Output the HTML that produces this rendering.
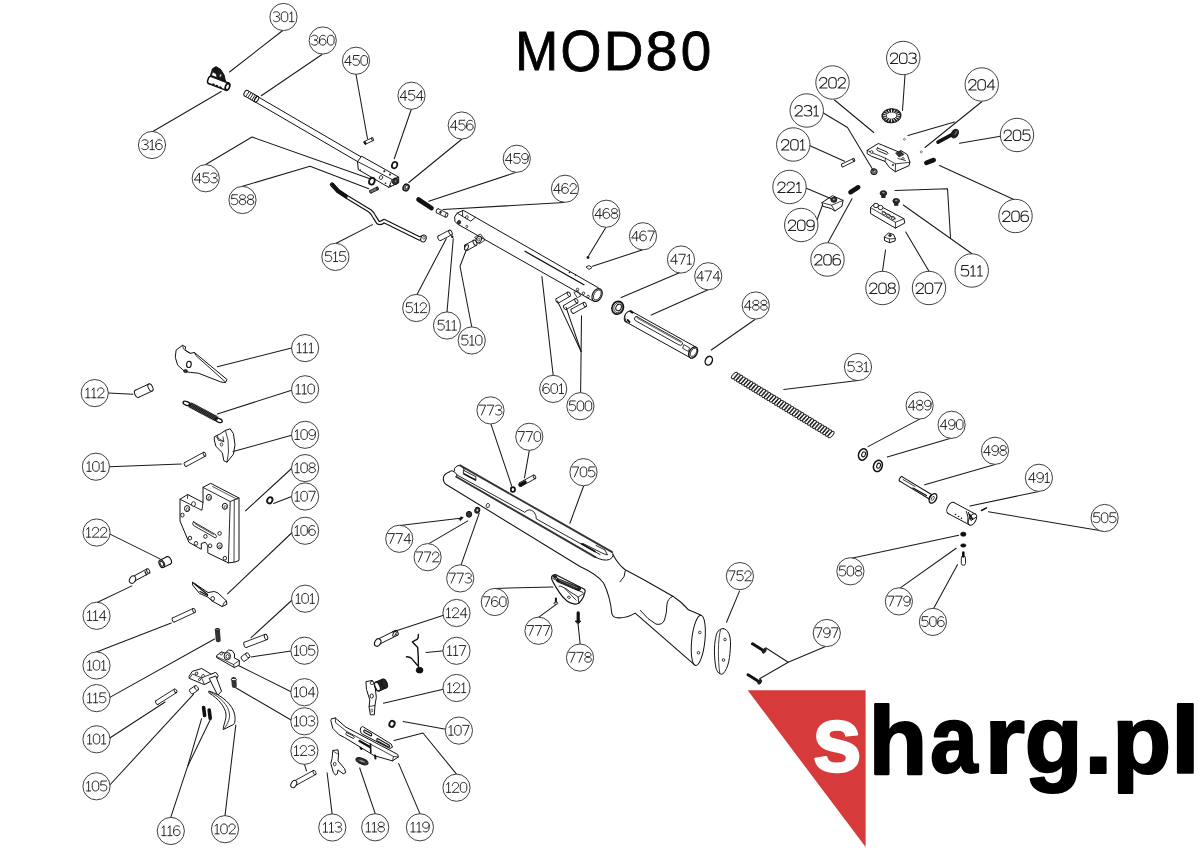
<!DOCTYPE html>
<html><head><meta charset="utf-8"><style>
html,body{margin:0;padding:0;background:#fff;width:1200px;height:848px;overflow:hidden}
svg{display:block}
</style></head><body>
<svg width="1200" height="848" viewBox="0 0 1200 848">
<rect width="1200" height="848" fill="#fff"/>
<text transform="translate(515.18,70.40) scale(0.51420,0.55959)" font-size="100" font-family="'Liberation Sans', sans-serif" fill="#000" stroke="#000" stroke-width="1.5558">M</text>
<text transform="translate(560.43,70.73) scale(0.52562,0.56638)" font-size="100" font-family="'Liberation Sans', sans-serif" fill="#000" stroke="#000" stroke-width="1.5220">O</text>
<text transform="translate(603.68,70.40) scale(0.55068,0.56105)" font-size="100" font-family="'Liberation Sans', sans-serif" fill="#000" stroke="#000" stroke-width="1.4528">D</text>
<text transform="translate(645.51,70.34) scale(0.57872,0.56215)" font-size="100" font-family="'Liberation Sans', sans-serif" fill="#000" stroke="#000" stroke-width="1.3824">8</text>
<text transform="translate(680.76,70.34) scale(0.54812,0.56215)" font-size="100" font-family="'Liberation Sans', sans-serif" fill="#000" stroke="#000" stroke-width="1.4595">0</text>
<polygon points="210.50,75.50 212.50,69.00 216.00,66.80 220.50,69.50 224.00,75.00 225.50,81.50 218.00,79.00" fill="#1a1a1a" stroke="#111" stroke-width="1.1" stroke-linejoin="round" />
<polygon points="211.50,75.50 213.00,70.50 215.50,71.50 217.00,77.50" fill="#fff" stroke="#111" stroke-width="0.7" stroke-linejoin="round" />
<ellipse cx="215.30" cy="70.80" rx="2.20" ry="2.40" transform="rotate(0.00 215.30 70.80)" fill="#111" stroke="#111" stroke-width="0.8"/>
<ellipse cx="220.50" cy="75.50" rx="0.80" ry="1.50" transform="rotate(20.00 220.50 75.50)" fill="#fff" stroke="#111" stroke-width="0.3"/>
<ellipse cx="210.00" cy="80.00" rx="2.09" ry="3.80" transform="rotate(21.23 210.00 80.00)" fill="#fff" stroke="#111" stroke-width="1.5"/>
<polygon points="208.62,83.54 226.12,90.34 228.88,83.26 211.38,76.46" fill="#fff" stroke="none"/>
<polyline points="208.62,83.54 226.12,90.34" fill="none" stroke="#111" stroke-width="1.5" stroke-linecap="round" stroke-linejoin="round"/>
<polyline points="211.38,76.46 228.88,83.26" fill="none" stroke="#111" stroke-width="1.5" stroke-linecap="round" stroke-linejoin="round"/>
<ellipse cx="227.50" cy="86.80" rx="2.09" ry="3.80" transform="rotate(21.23 227.50 86.80)" fill="#fff" stroke="#111" stroke-width="1.5"/>
<ellipse cx="227.50" cy="86.80" rx="1.80" ry="3.00" transform="rotate(21.00 227.50 86.80)" fill="#fff" stroke="#111" stroke-width="1.2"/>
<line x1="213.00" y1="84.20" x2="214.00" y2="84.60" stroke="#111" stroke-width="1.6" stroke-linecap="round"/>
<line x1="216.50" y1="85.60" x2="217.50" y2="86.00" stroke="#111" stroke-width="1.6" stroke-linecap="round"/>
<line x1="220.00" y1="87.00" x2="221.00" y2="87.40" stroke="#111" stroke-width="1.6" stroke-linecap="round"/>
<ellipse cx="256.00" cy="99.00" rx="1.59" ry="2.90" transform="rotate(30.24 256.00 99.00)" fill="#fff" stroke="#111" stroke-width="1.0"/>
<polygon points="254.54,101.51 360.54,163.31 363.46,158.29 257.46,96.49" fill="#fff" stroke="none"/>
<polyline points="254.54,101.51 360.54,163.31" fill="none" stroke="#111" stroke-width="1.0" stroke-linecap="round" stroke-linejoin="round"/>
<polyline points="257.46,96.49 363.46,158.29" fill="none" stroke="#111" stroke-width="1.0" stroke-linecap="round" stroke-linejoin="round"/>
<ellipse cx="362.00" cy="160.80" rx="1.59" ry="2.90" transform="rotate(30.24 362.00 160.80)" fill="#fff" stroke="#111" stroke-width="1.0"/>
<ellipse cx="246.00" cy="93.20" rx="1.71" ry="3.10" transform="rotate(29.74 246.00 93.20)" fill="#fff" stroke="#111" stroke-width="1.0"/>
<polygon points="244.46,95.89 254.96,101.89 258.04,96.51 247.54,90.51" fill="#fff" stroke="none"/>
<polyline points="244.46,95.89 254.96,101.89" fill="none" stroke="#111" stroke-width="1.0" stroke-linecap="round" stroke-linejoin="round"/>
<polyline points="247.54,90.51 258.04,96.51" fill="none" stroke="#111" stroke-width="1.0" stroke-linecap="round" stroke-linejoin="round"/>
<ellipse cx="256.50" cy="99.20" rx="1.71" ry="3.10" transform="rotate(29.74 256.50 99.20)" fill="#fff" stroke="#111" stroke-width="1.0"/>
<line x1="249.10" y1="91.60" x2="245.90" y2="96.40" stroke="#111" stroke-width="0.9" stroke-linecap="round"/>
<line x1="251.10" y1="92.80" x2="247.90" y2="97.60" stroke="#111" stroke-width="0.9" stroke-linecap="round"/>
<line x1="253.10" y1="94.00" x2="249.90" y2="98.80" stroke="#111" stroke-width="0.9" stroke-linecap="round"/>
<line x1="255.10" y1="95.20" x2="251.90" y2="100.00" stroke="#111" stroke-width="0.9" stroke-linecap="round"/>
<line x1="257.10" y1="96.40" x2="253.90" y2="101.20" stroke="#111" stroke-width="0.9" stroke-linecap="round"/>
<polygon points="357.50,161.50 361.60,156.20 398.70,177.10 398.70,182.90 388.80,187.40 358.30,169.60" fill="#fff" stroke="#111" stroke-width="1.0" stroke-linejoin="round" />
<polyline points="357.50,161.50 392.10,179.50 398.70,177.10" fill="none" stroke="#111" stroke-width="0.9" stroke-linecap="round" stroke-linejoin="round"/>
<polyline points="392.10,179.50 388.80,187.40" fill="none" stroke="#111" stroke-width="0.9" stroke-linecap="round" stroke-linejoin="round"/>
<ellipse cx="395.40" cy="181.30" rx="2.60" ry="3.20" transform="rotate(25.00 395.40 181.30)" fill="#333" stroke="#111" stroke-width="1"/>
<ellipse cx="395.60" cy="181.20" rx="1.10" ry="1.50" transform="rotate(25.00 395.60 181.20)" fill="#888" stroke="#111" stroke-width="0.5"/>
<ellipse cx="381.00" cy="177.50" rx="1.60" ry="2.00" transform="rotate(20.00 381.00 177.50)" fill="#fff" stroke="#111" stroke-width="0.8"/>
<circle cx="384.3" cy="171.3" r="1.0" fill="#111"/><circle cx="390" cy="174.6" r="1.0" fill="#111"/><circle cx="385.5" cy="183.3" r="0.8" fill="#111"/><circle cx="360.3" cy="170" r="0.8" fill="#111"/><circle cx="390.5" cy="185.7" r="0.8" fill="#111"/>
<ellipse cx="365.00" cy="142.80" rx="0.83" ry="1.50" transform="rotate(-25.64 365.00 142.80)" fill="#fff" stroke="#111" stroke-width="0.9"/>
<polygon points="365.65,144.15 373.15,140.55 371.85,137.85 364.35,141.45" fill="#fff" stroke="none"/>
<polyline points="365.65,144.15 373.15,140.55" fill="none" stroke="#111" stroke-width="0.9" stroke-linecap="round" stroke-linejoin="round"/>
<polyline points="364.35,141.45 371.85,137.85" fill="none" stroke="#111" stroke-width="0.9" stroke-linecap="round" stroke-linejoin="round"/>
<ellipse cx="372.50" cy="139.20" rx="0.83" ry="1.50" transform="rotate(-25.64 372.50 139.20)" fill="#fff" stroke="#111" stroke-width="0.9"/>
<ellipse cx="365.00" cy="142.80" rx="0.90" ry="1.50" transform="rotate(-25.00 365.00 142.80)" fill="#111" stroke="#111" stroke-width="0.6"/>
<ellipse cx="394.60" cy="165.10" rx="2.60" ry="3.30" transform="rotate(20.00 394.60 165.10)" fill="#fff" stroke="#111" stroke-width="1.7"/>
<ellipse cx="371.90" cy="181.20" rx="2.70" ry="3.50" transform="rotate(20.00 371.90 181.20)" fill="#fff" stroke="#111" stroke-width="1.8"/>
<ellipse cx="370.50" cy="191.80" rx="0.77" ry="1.40" transform="rotate(-25.91 370.50 191.80)" fill="#777" stroke="#111" stroke-width="0.9"/>
<polygon points="371.11,193.06 378.11,189.66 376.89,187.14 369.89,190.54" fill="#777" stroke="none"/>
<polyline points="371.11,193.06 378.11,189.66" fill="none" stroke="#111" stroke-width="0.9" stroke-linecap="round" stroke-linejoin="round"/>
<polyline points="369.89,190.54 376.89,187.14" fill="none" stroke="#111" stroke-width="0.9" stroke-linecap="round" stroke-linejoin="round"/>
<ellipse cx="377.50" cy="188.40" rx="0.77" ry="1.40" transform="rotate(-25.91 377.50 188.40)" fill="#777" stroke="#111" stroke-width="0.9"/>
<ellipse cx="406.10" cy="187.50" rx="2.90" ry="3.50" transform="rotate(25.00 406.10 187.50)" fill="#888" stroke="#111" stroke-width="1.4"/>
<ellipse cx="406.60" cy="187.30" rx="1.30" ry="1.80" transform="rotate(25.00 406.60 187.30)" fill="#fff" stroke="#111" stroke-width="0.7"/>
<path d="M332,184.5 L338,191 L347,197 L370,211 Q373,213.5 374.5,217 L378,222.5 Q380.5,224 384,221 L419.5,238.5 L423.5,237" fill="none" stroke="#111" stroke-width="4.3" stroke-linecap="round" stroke-linejoin="round"/>
<path d="M332,184.5 L338,191 L347,197 L370,211 Q373,213.5 374.5,217 L378,222.5 Q380.5,224 384,221 L419.5,238.5 L423.5,237" fill="none" stroke="#fff" stroke-width="2.0" stroke-linecap="round" stroke-linejoin="round"/>
<polyline points="332.50,184.50 338.00,191.00 346.00,196.50" fill="none" stroke="#111" stroke-width="3.4" stroke-linecap="round" stroke-linejoin="round"/>
<ellipse cx="423.50" cy="238.50" rx="2.60" ry="3.60" transform="rotate(20.00 423.50 238.50)" fill="#fff" stroke="#111" stroke-width="1.0"/>
<ellipse cx="424.00" cy="237.80" rx="1.00" ry="1.50" transform="rotate(20.00 424.00 237.80)" fill="#fff" stroke="#111" stroke-width="0.6"/>
<polygon points="463.30,210.30 598.70,288.00 592.40,300.70 457.60,224.10 455.00,221.50 454.60,217.00 457.20,213.10" fill="#fff" stroke="#111" stroke-width="1.0" stroke-linejoin="round" />
<polyline points="462.60,210.60 462.60,216.30 470.70,221.20 475.30,217.30" fill="none" stroke="#111" stroke-width="0.9" stroke-linecap="round" stroke-linejoin="round"/>
<polyline points="457.20,213.10 462.60,216.30" fill="none" stroke="#111" stroke-width="0.9" stroke-linecap="round" stroke-linejoin="round"/>
<ellipse cx="466.80" cy="217.30" rx="1.30" ry="1.60" transform="rotate(20.00 466.80 217.30)" fill="#fff" stroke="#111" stroke-width="0.8"/>
<ellipse cx="459.00" cy="222.30" rx="1.60" ry="1.90" transform="rotate(20.00 459.00 222.30)" fill="#333" stroke="#111" stroke-width="0.8"/>
<ellipse cx="466.80" cy="226.50" rx="1.00" ry="1.20" transform="rotate(0.00 466.80 226.50)" fill="#fff" stroke="#111" stroke-width="0.7"/>
<ellipse cx="597.10" cy="295.10" rx="4.60" ry="6.80" transform="rotate(28.00 597.10 295.10)" fill="#fff" stroke="#111" stroke-width="1.2"/>
<ellipse cx="597.30" cy="295.00" rx="3.30" ry="5.40" transform="rotate(28.00 597.30 295.00)" fill="#fff" stroke="#111" stroke-width="0.8"/>
<polyline points="525.00,251.30 583.90,284.80" fill="none" stroke="#111" stroke-width="1.3" stroke-linecap="round" stroke-linejoin="round"/>
<path d="M475,237 L480.5,234 L485,240 L480,243.5 Z" fill="none" stroke="#111" stroke-width="0.8" stroke-linecap="round" stroke-linejoin="round"/>
<ellipse cx="478.80" cy="239.60" rx="2.50" ry="3.40" transform="rotate(25.00 478.80 239.60)" fill="#fff" stroke="#111" stroke-width="1.0"/>
<ellipse cx="478.80" cy="239.60" rx="1.10" ry="1.60" transform="rotate(25.00 478.80 239.60)" fill="#fff" stroke="#111" stroke-width="0.6"/>
<ellipse cx="577.50" cy="289.50" rx="1.20" ry="1.30" transform="rotate(0.00 577.50 289.50)" fill="#fff" stroke="#111" stroke-width="0.8"/>
<ellipse cx="583.40" cy="293.30" rx="1.20" ry="1.30" transform="rotate(0.00 583.40 293.30)" fill="#fff" stroke="#111" stroke-width="0.8"/>
<ellipse cx="588.10" cy="296.50" rx="1.20" ry="1.30" transform="rotate(0.00 588.10 296.50)" fill="#fff" stroke="#111" stroke-width="0.8"/>
<path d="M574.3,292.2 L578,291 L580.7,296 L577.5,297.5 Z" fill="none" stroke="#111" stroke-width="0.8" stroke-linecap="round" stroke-linejoin="round"/>
<ellipse cx="569.50" cy="272.50" rx="0.60" ry="0.60" transform="rotate(0.00 569.50 272.50)" fill="#111" stroke="#111" stroke-width="0.4"/>
<ellipse cx="575.50" cy="275.00" rx="0.60" ry="0.60" transform="rotate(0.00 575.50 275.00)" fill="#111" stroke="#111" stroke-width="0.4"/>
<line x1="418.50" y1="199.50" x2="431.50" y2="208.20" stroke="#111" stroke-width="4.6" stroke-linecap="round"/>
<ellipse cx="437.50" cy="210.80" rx="1.21" ry="2.20" transform="rotate(26.05 437.50 210.80)" fill="#fff" stroke="#111" stroke-width="0.9"/>
<polygon points="436.53,212.78 445.53,217.18 447.47,213.22 438.47,208.82" fill="#fff" stroke="none"/>
<polyline points="436.53,212.78 445.53,217.18" fill="none" stroke="#111" stroke-width="0.9" stroke-linecap="round" stroke-linejoin="round"/>
<polyline points="438.47,208.82 447.47,213.22" fill="none" stroke="#111" stroke-width="0.9" stroke-linecap="round" stroke-linejoin="round"/>
<ellipse cx="446.50" cy="215.20" rx="1.21" ry="2.20" transform="rotate(26.05 446.50 215.20)" fill="#fff" stroke="#111" stroke-width="0.9"/>
<ellipse cx="440.50" cy="212.30" rx="1.00" ry="1.20" transform="rotate(25.00 440.50 212.30)" fill="#333" stroke="#111" stroke-width="0.5"/>
<ellipse cx="439.50" cy="238.20" rx="1.43" ry="2.60" transform="rotate(-27.39 439.50 238.20)" fill="#fff" stroke="#111" stroke-width="0.9"/>
<polygon points="440.70,240.51 451.70,234.81 449.30,230.19 438.30,235.89" fill="#fff" stroke="none"/>
<polyline points="440.70,240.51 451.70,234.81" fill="none" stroke="#111" stroke-width="0.9" stroke-linecap="round" stroke-linejoin="round"/>
<polyline points="438.30,235.89 449.30,230.19" fill="none" stroke="#111" stroke-width="0.9" stroke-linecap="round" stroke-linejoin="round"/>
<ellipse cx="450.50" cy="232.50" rx="1.43" ry="2.60" transform="rotate(-27.39 450.50 232.50)" fill="#fff" stroke="#111" stroke-width="0.9"/>
<circle cx="452.3" cy="236.8" r="1.2" fill="#111"/>
<ellipse cx="466.50" cy="247.50" rx="1.59" ry="2.90" transform="rotate(-28.94 466.50 247.50)" fill="#fff" stroke="#111" stroke-width="0.9"/>
<polygon points="467.90,250.04 476.40,245.34 473.60,240.26 465.10,244.96" fill="#fff" stroke="none"/>
<polyline points="467.90,250.04 476.40,245.34" fill="none" stroke="#111" stroke-width="0.9" stroke-linecap="round" stroke-linejoin="round"/>
<polyline points="465.10,244.96 473.60,240.26" fill="none" stroke="#111" stroke-width="0.9" stroke-linecap="round" stroke-linejoin="round"/>
<ellipse cx="475.00" cy="242.80" rx="1.59" ry="2.90" transform="rotate(-28.94 475.00 242.80)" fill="#fff" stroke="#111" stroke-width="0.9"/>
<ellipse cx="466.50" cy="247.50" rx="1.60" ry="2.90" transform="rotate(27.00 466.50 247.50)" fill="#fff" stroke="#111" stroke-width="0.9"/>
<circle cx="588" cy="257.5" r="1.4" fill="#111"/>
<polygon points="586.00,267.00 589.00,265.50 592.00,267.50 589.00,269.50" fill="#fff" stroke="#111" stroke-width="0.9" stroke-linejoin="round" />
<ellipse cx="557.50" cy="300.80" rx="1.32" ry="2.40" transform="rotate(-30.07 557.50 300.80)" fill="#fff" stroke="#111" stroke-width="0.9"/>
<polygon points="558.70,302.88 570.10,296.28 567.70,292.12 556.30,298.72" fill="#fff" stroke="none"/>
<polyline points="558.70,302.88 570.10,296.28" fill="none" stroke="#111" stroke-width="0.9" stroke-linecap="round" stroke-linejoin="round"/>
<polyline points="556.30,298.72 567.70,292.12" fill="none" stroke="#111" stroke-width="0.9" stroke-linecap="round" stroke-linejoin="round"/>
<ellipse cx="568.90" cy="294.20" rx="1.32" ry="2.40" transform="rotate(-30.07 568.90 294.20)" fill="#fff" stroke="#111" stroke-width="0.9"/>
<ellipse cx="565.10" cy="307.40" rx="1.32" ry="2.40" transform="rotate(-30.29 565.10 307.40)" fill="#fff" stroke="#111" stroke-width="0.9"/>
<polygon points="566.31,309.47 577.61,302.87 575.19,298.73 563.89,305.33" fill="#fff" stroke="none"/>
<polyline points="566.31,309.47 577.61,302.87" fill="none" stroke="#111" stroke-width="0.9" stroke-linecap="round" stroke-linejoin="round"/>
<polyline points="563.89,305.33 575.19,298.73" fill="none" stroke="#111" stroke-width="0.9" stroke-linecap="round" stroke-linejoin="round"/>
<ellipse cx="576.40" cy="300.80" rx="1.32" ry="2.40" transform="rotate(-30.29 576.40 300.80)" fill="#fff" stroke="#111" stroke-width="0.9"/>
<ellipse cx="572.60" cy="311.20" rx="1.32" ry="2.40" transform="rotate(-28.58 572.60 311.20)" fill="#fff" stroke="#111" stroke-width="0.9"/>
<polygon points="573.75,313.31 586.05,306.61 583.75,302.39 571.45,309.09" fill="#fff" stroke="none"/>
<polyline points="573.75,313.31 586.05,306.61" fill="none" stroke="#111" stroke-width="0.9" stroke-linecap="round" stroke-linejoin="round"/>
<polyline points="571.45,309.09 583.75,302.39" fill="none" stroke="#111" stroke-width="0.9" stroke-linecap="round" stroke-linejoin="round"/>
<ellipse cx="584.90" cy="304.50" rx="1.32" ry="2.40" transform="rotate(-28.58 584.90 304.50)" fill="#fff" stroke="#111" stroke-width="0.9"/>
<ellipse cx="617.70" cy="307.70" rx="5.60" ry="6.60" transform="rotate(25.00 617.70 307.70)" fill="#fff" stroke="#111" stroke-width="1.6"/>
<ellipse cx="618.20" cy="307.60" rx="4.20" ry="5.20" transform="rotate(25.00 618.20 307.60)" fill="#fff" stroke="#111" stroke-width="0.7"/>
<ellipse cx="618.60" cy="307.50" rx="2.60" ry="3.40" transform="rotate(25.00 618.60 307.50)" fill="#fff" stroke="#111" stroke-width="1.0"/>
<ellipse cx="628.50" cy="316.50" rx="3.60" ry="6.00" transform="rotate(29.09 628.50 316.50)" fill="#fff" stroke="#111" stroke-width="1.0"/>
<polygon points="625.58,321.74 690.28,357.74 696.12,347.26 631.42,311.26" fill="#fff" stroke="none"/>
<polyline points="625.58,321.74 690.28,357.74" fill="none" stroke="#111" stroke-width="1.0" stroke-linecap="round" stroke-linejoin="round"/>
<polyline points="631.42,311.26 696.12,347.26" fill="none" stroke="#111" stroke-width="1.0" stroke-linecap="round" stroke-linejoin="round"/>
<ellipse cx="693.20" cy="352.50" rx="3.60" ry="6.00" transform="rotate(29.09 693.20 352.50)" fill="#fff" stroke="#111" stroke-width="1.0"/>
<path d="M630.9,310.8 Q624.5,312 624.8,317.5 Q625.2,321.2 626.6,321.8" fill="#fff" stroke="#111" stroke-width="1.0" stroke-linecap="round" stroke-linejoin="round"/>
<polyline points="630.50,311.50 632.50,312.80" fill="none" stroke="#111" stroke-width="1.8" stroke-linecap="round" stroke-linejoin="round"/>
<polyline points="627.50,320.00 629.50,322.00" fill="none" stroke="#111" stroke-width="1.8" stroke-linecap="round" stroke-linejoin="round"/>
<path d="M637,316.8 L681.5,341.5 Q683.5,343 682,344.8 Q680.5,345.8 678.8,344.8 L635.2,320.5 Q633.5,319 635,317.2 Q635.8,316.3 637,316.8 Z" fill="#fff" stroke="#111" stroke-width="0.9" stroke-linecap="round" stroke-linejoin="round"/>
<polyline points="637.50,318.30 680.50,342.20" fill="none" stroke="#111" stroke-width="0.6" stroke-linecap="round" stroke-linejoin="round"/>
<path d="M684.2,344.8 L689.5,347.8 L688.5,351.5 L683,348.5 Z" fill="none" stroke="#111" stroke-width="0.8" stroke-linecap="round" stroke-linejoin="round"/>
<ellipse cx="693.20" cy="352.50" rx="3.90" ry="6.00" transform="rotate(29.00 693.20 352.50)" fill="#fff" stroke="#111" stroke-width="1.3"/>
<ellipse cx="693.50" cy="352.30" rx="2.60" ry="4.50" transform="rotate(29.00 693.50 352.30)" fill="#fff" stroke="#111" stroke-width="0.8"/>
<ellipse cx="708.80" cy="360.70" rx="3.40" ry="4.60" transform="rotate(25.00 708.80 360.70)" fill="#fff" stroke="#111" stroke-width="1.4"/>
<ellipse cx="734.50" cy="375.50" rx="1.80" ry="4.00" transform="rotate(43.44 734.50 375.50)" fill="none" stroke="#222" stroke-width="1.0"/>
<ellipse cx="737.04" cy="377.05" rx="1.80" ry="4.00" transform="rotate(43.44 737.04 377.05)" fill="none" stroke="#222" stroke-width="1.0"/>
<ellipse cx="739.58" cy="378.61" rx="1.80" ry="4.00" transform="rotate(43.44 739.58 378.61)" fill="none" stroke="#222" stroke-width="1.0"/>
<ellipse cx="742.12" cy="380.16" rx="1.80" ry="4.00" transform="rotate(43.44 742.12 380.16)" fill="none" stroke="#222" stroke-width="1.0"/>
<ellipse cx="744.66" cy="381.71" rx="1.80" ry="4.00" transform="rotate(43.44 744.66 381.71)" fill="none" stroke="#222" stroke-width="1.0"/>
<ellipse cx="747.20" cy="383.26" rx="1.80" ry="4.00" transform="rotate(43.44 747.20 383.26)" fill="none" stroke="#222" stroke-width="1.0"/>
<ellipse cx="749.74" cy="384.82" rx="1.80" ry="4.00" transform="rotate(43.44 749.74 384.82)" fill="none" stroke="#222" stroke-width="1.0"/>
<ellipse cx="752.28" cy="386.37" rx="1.80" ry="4.00" transform="rotate(43.44 752.28 386.37)" fill="none" stroke="#222" stroke-width="1.0"/>
<ellipse cx="754.82" cy="387.92" rx="1.80" ry="4.00" transform="rotate(43.44 754.82 387.92)" fill="none" stroke="#222" stroke-width="1.0"/>
<ellipse cx="757.36" cy="389.47" rx="1.80" ry="4.00" transform="rotate(43.44 757.36 389.47)" fill="none" stroke="#222" stroke-width="1.0"/>
<ellipse cx="759.89" cy="391.03" rx="1.80" ry="4.00" transform="rotate(43.44 759.89 391.03)" fill="none" stroke="#222" stroke-width="1.0"/>
<ellipse cx="762.43" cy="392.58" rx="1.80" ry="4.00" transform="rotate(43.44 762.43 392.58)" fill="none" stroke="#222" stroke-width="1.0"/>
<ellipse cx="764.97" cy="394.13" rx="1.80" ry="4.00" transform="rotate(43.44 764.97 394.13)" fill="none" stroke="#222" stroke-width="1.0"/>
<ellipse cx="767.51" cy="395.68" rx="1.80" ry="4.00" transform="rotate(43.44 767.51 395.68)" fill="none" stroke="#222" stroke-width="1.0"/>
<ellipse cx="770.05" cy="397.24" rx="1.80" ry="4.00" transform="rotate(43.44 770.05 397.24)" fill="none" stroke="#222" stroke-width="1.0"/>
<ellipse cx="772.59" cy="398.79" rx="1.80" ry="4.00" transform="rotate(43.44 772.59 398.79)" fill="none" stroke="#222" stroke-width="1.0"/>
<ellipse cx="775.13" cy="400.34" rx="1.80" ry="4.00" transform="rotate(43.44 775.13 400.34)" fill="none" stroke="#222" stroke-width="1.0"/>
<ellipse cx="777.67" cy="401.89" rx="1.80" ry="4.00" transform="rotate(43.44 777.67 401.89)" fill="none" stroke="#222" stroke-width="1.0"/>
<ellipse cx="780.21" cy="403.45" rx="1.80" ry="4.00" transform="rotate(43.44 780.21 403.45)" fill="none" stroke="#222" stroke-width="1.0"/>
<ellipse cx="782.75" cy="405.00" rx="1.80" ry="4.00" transform="rotate(43.44 782.75 405.00)" fill="none" stroke="#222" stroke-width="1.0"/>
<ellipse cx="785.29" cy="406.55" rx="1.80" ry="4.00" transform="rotate(43.44 785.29 406.55)" fill="none" stroke="#222" stroke-width="1.0"/>
<ellipse cx="787.83" cy="408.11" rx="1.80" ry="4.00" transform="rotate(43.44 787.83 408.11)" fill="none" stroke="#222" stroke-width="1.0"/>
<ellipse cx="790.37" cy="409.66" rx="1.80" ry="4.00" transform="rotate(43.44 790.37 409.66)" fill="none" stroke="#222" stroke-width="1.0"/>
<ellipse cx="792.91" cy="411.21" rx="1.80" ry="4.00" transform="rotate(43.44 792.91 411.21)" fill="none" stroke="#222" stroke-width="1.0"/>
<ellipse cx="795.45" cy="412.76" rx="1.80" ry="4.00" transform="rotate(43.44 795.45 412.76)" fill="none" stroke="#222" stroke-width="1.0"/>
<ellipse cx="797.99" cy="414.32" rx="1.80" ry="4.00" transform="rotate(43.44 797.99 414.32)" fill="none" stroke="#222" stroke-width="1.0"/>
<ellipse cx="800.53" cy="415.87" rx="1.80" ry="4.00" transform="rotate(43.44 800.53 415.87)" fill="none" stroke="#222" stroke-width="1.0"/>
<ellipse cx="803.07" cy="417.42" rx="1.80" ry="4.00" transform="rotate(43.44 803.07 417.42)" fill="none" stroke="#222" stroke-width="1.0"/>
<ellipse cx="805.61" cy="418.97" rx="1.80" ry="4.00" transform="rotate(43.44 805.61 418.97)" fill="none" stroke="#222" stroke-width="1.0"/>
<ellipse cx="808.14" cy="420.53" rx="1.80" ry="4.00" transform="rotate(43.44 808.14 420.53)" fill="none" stroke="#222" stroke-width="1.0"/>
<ellipse cx="810.68" cy="422.08" rx="1.80" ry="4.00" transform="rotate(43.44 810.68 422.08)" fill="none" stroke="#222" stroke-width="1.0"/>
<ellipse cx="813.22" cy="423.63" rx="1.80" ry="4.00" transform="rotate(43.44 813.22 423.63)" fill="none" stroke="#222" stroke-width="1.0"/>
<ellipse cx="815.76" cy="425.18" rx="1.80" ry="4.00" transform="rotate(43.44 815.76 425.18)" fill="none" stroke="#222" stroke-width="1.0"/>
<ellipse cx="818.30" cy="426.74" rx="1.80" ry="4.00" transform="rotate(43.44 818.30 426.74)" fill="none" stroke="#222" stroke-width="1.0"/>
<ellipse cx="820.84" cy="428.29" rx="1.80" ry="4.00" transform="rotate(43.44 820.84 428.29)" fill="none" stroke="#222" stroke-width="1.0"/>
<ellipse cx="823.38" cy="429.84" rx="1.80" ry="4.00" transform="rotate(43.44 823.38 429.84)" fill="none" stroke="#222" stroke-width="1.0"/>
<ellipse cx="825.92" cy="431.39" rx="1.80" ry="4.00" transform="rotate(43.44 825.92 431.39)" fill="none" stroke="#222" stroke-width="1.0"/>
<ellipse cx="828.46" cy="432.95" rx="1.80" ry="4.00" transform="rotate(43.44 828.46 432.95)" fill="none" stroke="#222" stroke-width="1.0"/>
<ellipse cx="831.00" cy="434.50" rx="1.80" ry="4.00" transform="rotate(43.44 831.00 434.50)" fill="none" stroke="#222" stroke-width="1.0"/>
<ellipse cx="862.90" cy="454.50" rx="4.30" ry="5.80" transform="rotate(20.00 862.90 454.50)" fill="#fff" stroke="#111" stroke-width="1.5"/>
<ellipse cx="863.60" cy="454.30" rx="1.80" ry="2.60" transform="rotate(20.00 863.60 454.30)" fill="#fff" stroke="#111" stroke-width="1.0"/>
<ellipse cx="877.90" cy="465.90" rx="4.30" ry="5.80" transform="rotate(20.00 877.90 465.90)" fill="#fff" stroke="#111" stroke-width="1.5"/>
<ellipse cx="878.60" cy="465.70" rx="1.80" ry="2.60" transform="rotate(20.00 878.60 465.70)" fill="#fff" stroke="#111" stroke-width="1.0"/>
<ellipse cx="901.00" cy="479.00" rx="1.38" ry="2.50" transform="rotate(31.24 901.00 479.00)" fill="#fff" stroke="#111" stroke-width="1.1"/>
<polygon points="899.70,481.14 929.70,499.34 932.30,495.06 902.30,476.86" fill="#fff" stroke="none"/>
<polyline points="899.70,481.14 929.70,499.34" fill="none" stroke="#111" stroke-width="1.1" stroke-linecap="round" stroke-linejoin="round"/>
<polyline points="902.30,476.86 932.30,495.06" fill="none" stroke="#111" stroke-width="1.1" stroke-linecap="round" stroke-linejoin="round"/>
<ellipse cx="931.00" cy="497.20" rx="1.38" ry="2.50" transform="rotate(31.24 931.00 497.20)" fill="#fff" stroke="#111" stroke-width="1.1"/>
<polyline points="903.00,479.50 915.00,486.50" fill="none" stroke="#111" stroke-width="0.8" stroke-linecap="round" stroke-linejoin="round"/>
<polyline points="913.00,488.00 926.50,495.50" fill="none" stroke="#111" stroke-width="1.3" stroke-linecap="round" stroke-linejoin="round"/>
<ellipse cx="933.00" cy="498.40" rx="3.20" ry="5.20" transform="rotate(31.00 933.00 498.40)" fill="#fff" stroke="#111" stroke-width="1.4"/>
<ellipse cx="932.80" cy="498.40" rx="1.20" ry="2.20" transform="rotate(31.00 932.80 498.40)" fill="#fff" stroke="#111" stroke-width="0.7"/>
<ellipse cx="951.00" cy="508.00" rx="3.41" ry="6.20" transform="rotate(28.14 951.00 508.00)" fill="#fff" stroke="#111" stroke-width="1.0"/>
<polygon points="948.08,513.47 969.58,524.97 975.42,514.03 953.92,502.53" fill="#fff" stroke="none"/>
<polyline points="948.08,513.47 969.58,524.97" fill="none" stroke="#111" stroke-width="1.0" stroke-linecap="round" stroke-linejoin="round"/>
<polyline points="953.92,502.53 975.42,514.03" fill="none" stroke="#111" stroke-width="1.0" stroke-linecap="round" stroke-linejoin="round"/>
<ellipse cx="972.50" cy="519.50" rx="3.41" ry="6.20" transform="rotate(28.14 972.50 519.50)" fill="#fff" stroke="#111" stroke-width="1.0"/>
<path d="M966.5,511.5 Q969,517 967.8,523 M968.5,512.5 L971,520.5 L976.8,516.8" fill="none" stroke="#111" stroke-width="1.0" stroke-linecap="round" stroke-linejoin="round"/>
<polyline points="969.50,514.50 972.50,519.00" fill="none" stroke="#111" stroke-width="1.6" stroke-linecap="round" stroke-linejoin="round"/>
<circle cx="955.5" cy="514.5" r="0.8" fill="#111"/><circle cx="958.5" cy="516.5" r="0.8" fill="#111"/><circle cx="961.5" cy="518.3" r="0.8" fill="#111"/>
<line x1="981.50" y1="510.50" x2="986.50" y2="507.80" stroke="#111" stroke-width="1.5" stroke-linecap="round"/>
<ellipse cx="963.30" cy="534.20" rx="2.70" ry="2.10" transform="rotate(0.00 963.30 534.20)" fill="#111" stroke="#111" stroke-width="0.6"/>
<ellipse cx="963.30" cy="545.50" rx="2.70" ry="1.70" transform="rotate(0.00 963.30 545.50)" fill="#111" stroke="#111" stroke-width="0.6"/>
<rect x="961.3" y="556" width="4.2" height="9.2" rx="1.8" fill="#fff" stroke="#111" stroke-width="0.9"/>
<line x1="963.30" y1="552.50" x2="963.30" y2="556.50" stroke="#111" stroke-width="2.6" stroke-linecap="round"/>
<ellipse cx="891.50" cy="115.70" rx="9.60" ry="7.00" transform="rotate(-5.00 891.50 115.70)" fill="#222" stroke="#111" stroke-width="1.0"/>
<ellipse cx="891.50" cy="115.70" rx="5.20" ry="3.60" transform="rotate(-5.00 891.50 115.70)" fill="#fff" stroke="#111" stroke-width="1.0"/>
<line x1="897.10" y1="115.70" x2="899.70" y2="115.70" stroke="#fff" stroke-width="0.9" stroke-linecap="round"/>
<line x1="896.67" y1="117.19" x2="899.08" y2="118.00" stroke="#fff" stroke-width="0.9" stroke-linecap="round"/>
<line x1="895.46" y1="118.46" x2="897.30" y2="119.94" stroke="#fff" stroke-width="0.9" stroke-linecap="round"/>
<line x1="893.64" y1="119.30" x2="894.64" y2="121.24" stroke="#fff" stroke-width="0.9" stroke-linecap="round"/>
<line x1="891.50" y1="119.60" x2="891.50" y2="121.70" stroke="#fff" stroke-width="0.9" stroke-linecap="round"/>
<line x1="889.36" y1="119.30" x2="888.36" y2="121.24" stroke="#fff" stroke-width="0.9" stroke-linecap="round"/>
<line x1="887.54" y1="118.46" x2="885.70" y2="119.94" stroke="#fff" stroke-width="0.9" stroke-linecap="round"/>
<line x1="886.33" y1="117.19" x2="883.92" y2="118.00" stroke="#fff" stroke-width="0.9" stroke-linecap="round"/>
<line x1="885.90" y1="115.70" x2="883.30" y2="115.70" stroke="#fff" stroke-width="0.9" stroke-linecap="round"/>
<line x1="886.33" y1="114.21" x2="883.92" y2="113.40" stroke="#fff" stroke-width="0.9" stroke-linecap="round"/>
<line x1="887.54" y1="112.94" x2="885.70" y2="111.46" stroke="#fff" stroke-width="0.9" stroke-linecap="round"/>
<line x1="889.36" y1="112.10" x2="888.36" y2="110.16" stroke="#fff" stroke-width="0.9" stroke-linecap="round"/>
<line x1="891.50" y1="111.80" x2="891.50" y2="109.70" stroke="#fff" stroke-width="0.9" stroke-linecap="round"/>
<line x1="893.64" y1="112.10" x2="894.64" y2="110.16" stroke="#fff" stroke-width="0.9" stroke-linecap="round"/>
<line x1="895.46" y1="112.94" x2="897.30" y2="111.46" stroke="#fff" stroke-width="0.9" stroke-linecap="round"/>
<line x1="896.67" y1="114.21" x2="899.08" y2="113.40" stroke="#fff" stroke-width="0.9" stroke-linecap="round"/>
<circle cx="904.5" cy="139.3" r="1.0" fill="#fff" stroke="#333" stroke-width="0.6"/><circle cx="921.3" cy="151.8" r="1.0" fill="#fff" stroke="#333" stroke-width="0.6"/>
<line x1="938.00" y1="142.20" x2="951.00" y2="135.20" stroke="#111" stroke-width="3.6" stroke-linecap="round"/>
<ellipse cx="954.80" cy="133.60" rx="3.20" ry="4.60" transform="rotate(30.00 954.80 133.60)" fill="#222" stroke="#111" stroke-width="1.0"/>
<ellipse cx="956.00" cy="132.80" rx="1.60" ry="3.20" transform="rotate(30.00 956.00 132.80)" fill="#555" stroke="#111" stroke-width="0.6"/>
<line x1="926.30" y1="162.80" x2="933.70" y2="160.00" stroke="#111" stroke-width="4.6" stroke-linecap="round"/>
<ellipse cx="842.30" cy="165.50" rx="0.83" ry="1.50" transform="rotate(-25.96 842.30 165.50)" fill="#fff" stroke="#111" stroke-width="0.9"/>
<polygon points="842.96,166.85 854.46,161.25 853.14,158.55 841.64,164.15" fill="#fff" stroke="none"/>
<polyline points="842.96,166.85 854.46,161.25" fill="none" stroke="#111" stroke-width="0.9" stroke-linecap="round" stroke-linejoin="round"/>
<polyline points="841.64,164.15 853.14,158.55" fill="none" stroke="#111" stroke-width="0.9" stroke-linecap="round" stroke-linejoin="round"/>
<ellipse cx="853.80" cy="159.90" rx="0.83" ry="1.50" transform="rotate(-25.96 853.80 159.90)" fill="#fff" stroke="#111" stroke-width="0.9"/>
<polygon points="867.20,150.30 878.30,143.50 882.60,145.20 898.80,152.00 900.50,150.30 907.40,154.60 909.90,162.30 909.00,165.70 895.40,171.70 889.40,167.40 885.10,161.40 871.40,156.30 867.20,153.70" fill="#fff" stroke="#111" stroke-width="1.0" stroke-linejoin="round" />
<polyline points="867.20,150.30 871.50,152.50 885.50,158.20 895.50,163.80 909.90,162.30" fill="none" stroke="#111" stroke-width="0.8" stroke-linecap="round" stroke-linejoin="round"/>
<polyline points="895.50,163.80 895.40,171.70" fill="none" stroke="#111" stroke-width="0.8" stroke-linecap="round" stroke-linejoin="round"/>
<polyline points="885.50,158.20 885.10,161.40" fill="none" stroke="#111" stroke-width="0.8" stroke-linecap="round" stroke-linejoin="round"/>
<path d="M877.5,148 L887,152 Q889,153.5 887,154.5 L877.5,150.5 Q875.5,149 877.5,148 Z" fill="none" stroke="#111" stroke-width="0.9" stroke-linecap="round" stroke-linejoin="round"/>
<ellipse cx="871.50" cy="152.00" rx="1.50" ry="1.30" transform="rotate(0.00 871.50 152.00)" fill="#fff" stroke="#111" stroke-width="0.8"/>
<polygon points="895.50,153.00 900.50,151.00 904.00,154.50 899.00,157.00" fill="#333" stroke="#111" stroke-width="0.6" stroke-linejoin="round" />
<polyline points="898.00,158.50 905.50,160.50" fill="none" stroke="#111" stroke-width="0.8" stroke-linecap="round" stroke-linejoin="round"/>
<ellipse cx="903.00" cy="158.50" rx="1.20" ry="1.00" transform="rotate(0.00 903.00 158.50)" fill="#fff" stroke="#111" stroke-width="0.7"/>
<ellipse cx="893.00" cy="165.00" rx="0.80" ry="0.80" transform="rotate(0.00 893.00 165.00)" fill="#333" stroke="#111" stroke-width="0.5"/>
<ellipse cx="874.00" cy="171.70" rx="3.20" ry="3.00" transform="rotate(0.00 874.00 171.70)" fill="#777" stroke="#111" stroke-width="1.0"/>
<ellipse cx="874.00" cy="171.50" rx="1.50" ry="1.30" transform="rotate(0.00 874.00 171.50)" fill="#ddd" stroke="#111" stroke-width="0.5"/>
<line x1="850.50" y1="192.20" x2="858.20" y2="187.30" stroke="#111" stroke-width="4.6" stroke-linecap="round"/>
<polygon points="821.90,202.70 832.50,195.70 843.10,200.40 841.90,206.30 834.90,211.00 831.30,208.60 823.00,206.30" fill="#fff" stroke="#111" stroke-width="1.0" stroke-linejoin="round" />
<polyline points="821.90,202.70 831.50,205.20 843.10,200.40" fill="none" stroke="#111" stroke-width="0.8" stroke-linecap="round" stroke-linejoin="round"/>
<polyline points="831.50,205.20 834.90,211.00" fill="none" stroke="#111" stroke-width="0.8" stroke-linecap="round" stroke-linejoin="round"/>
<ellipse cx="833.80" cy="199.80" rx="3.00" ry="2.50" transform="rotate(0.00 833.80 199.80)" fill="#333" stroke="#111" stroke-width="0.9"/>
<ellipse cx="833.80" cy="199.40" rx="1.40" ry="1.10" transform="rotate(0.00 833.80 199.40)" fill="#aaa" stroke="#111" stroke-width="0.5"/>
<ellipse cx="883.40" cy="193.20" rx="3.30" ry="2.50" transform="rotate(0.00 883.40 193.20)" fill="#333" stroke="#111" stroke-width="0.9"/>
<ellipse cx="883.40" cy="192.70" rx="1.60" ry="1.00" transform="rotate(0.00 883.40 192.70)" fill="#999" stroke="#111" stroke-width="0.4"/>
<rect x="881.30" y="194.40" width="4.2" height="3.6" fill="#222"/>
<ellipse cx="896.20" cy="201.00" rx="3.30" ry="2.50" transform="rotate(0.00 896.20 201.00)" fill="#333" stroke="#111" stroke-width="0.9"/>
<ellipse cx="896.20" cy="200.50" rx="1.60" ry="1.00" transform="rotate(0.00 896.20 200.50)" fill="#999" stroke="#111" stroke-width="0.4"/>
<rect x="894.10" y="202.20" width="4.2" height="3.6" fill="#222"/>
<polygon points="870.60,207.60 874.90,203.30 903.90,218.70 904.80,223.00 895.40,228.10 870.60,213.60" fill="#fff" stroke="#111" stroke-width="1.0" stroke-linejoin="round" />
<polyline points="870.60,207.60 895.40,222.30 903.90,218.70" fill="none" stroke="#111" stroke-width="0.8" stroke-linecap="round" stroke-linejoin="round"/>
<polyline points="895.40,222.30 895.40,228.10" fill="none" stroke="#111" stroke-width="0.8" stroke-linecap="round" stroke-linejoin="round"/>
<ellipse cx="876.00" cy="205.50" rx="2.40" ry="2.20" transform="rotate(0.00 876.00 205.50)" fill="#fff" stroke="#111" stroke-width="0.9"/>
<ellipse cx="880.50" cy="207.50" rx="2.40" ry="2.20" transform="rotate(0.00 880.50 207.50)" fill="#fff" stroke="#111" stroke-width="0.9"/>
<ellipse cx="884.00" cy="213.30" rx="2.00" ry="1.50" transform="rotate(25.00 884.00 213.30)" fill="#fff" stroke="#111" stroke-width="0.8"/>
<ellipse cx="888.50" cy="215.70" rx="2.00" ry="1.50" transform="rotate(25.00 888.50 215.70)" fill="#fff" stroke="#111" stroke-width="0.8"/>
<ellipse cx="893.00" cy="218.00" rx="2.00" ry="1.50" transform="rotate(25.00 893.00 218.00)" fill="#fff" stroke="#111" stroke-width="0.8"/>
<polyline points="882.00,211.00 895.50,219.00" fill="none" stroke="#111" stroke-width="0.7" stroke-linecap="round" stroke-linejoin="round"/>
<polygon points="884.30,237.00 888.50,233.00 893.50,234.50 895.40,238.50 895.00,241.00 889.50,242.70 884.50,240.50" fill="#fff" stroke="#111" stroke-width="1.0" stroke-linejoin="round" />
<polyline points="884.30,237.00 889.50,239.00 895.40,238.50" fill="none" stroke="#111" stroke-width="0.8" stroke-linecap="round" stroke-linejoin="round"/>
<polyline points="889.50,239.00 889.50,242.70" fill="none" stroke="#111" stroke-width="0.8" stroke-linecap="round" stroke-linejoin="round"/>
<ellipse cx="890.00" cy="235.50" rx="1.50" ry="1.10" transform="rotate(0.00 890.00 235.50)" fill="#333" stroke="#111" stroke-width="0.6"/>
<polygon points="176.10,350.10 182.50,345.30 185.70,346.90 184.90,350.10 190.40,353.30 194.40,352.50 227.00,379.50 225.40,382.70 220.70,381.90 198.40,373.20 190.40,372.40 184.90,371.60 177.70,365.20 175.30,357.30" fill="#fff" stroke="#111" stroke-width="1.0" stroke-linejoin="round" />
<polyline points="194.40,352.50 196.00,355.70 225.40,381.90" fill="none" stroke="#111" stroke-width="0.9" stroke-linecap="round" stroke-linejoin="round"/>
<polyline points="184.90,350.10 187.50,351.80 190.40,353.30" fill="none" stroke="#111" stroke-width="0.8" stroke-linecap="round" stroke-linejoin="round"/>
<polyline points="182.50,345.30 183.50,349.00" fill="none" stroke="#111" stroke-width="0.8" stroke-linecap="round" stroke-linejoin="round"/>
<ellipse cx="188.90" cy="364.40" rx="2.30" ry="3.10" transform="rotate(10.00 188.90 364.40)" fill="#fff" stroke="#111" stroke-width="1.1"/>
<ellipse cx="185.50" cy="371.00" rx="2.00" ry="1.60" transform="rotate(0.00 185.50 371.00)" fill="#333" stroke="#111" stroke-width="0.6"/>
<ellipse cx="137.00" cy="393.80" rx="2.15" ry="3.90" transform="rotate(-25.02 137.00 393.80)" fill="#fff" stroke="#111" stroke-width="1.0"/>
<polygon points="138.65,397.33 152.15,391.03 148.85,383.97 135.35,390.27" fill="#fff" stroke="none"/>
<polyline points="138.65,397.33 152.15,391.03" fill="none" stroke="#111" stroke-width="1.0" stroke-linecap="round" stroke-linejoin="round"/>
<polyline points="135.35,390.27 148.85,383.97" fill="none" stroke="#111" stroke-width="1.0" stroke-linecap="round" stroke-linejoin="round"/>
<ellipse cx="150.50" cy="387.50" rx="2.15" ry="3.90" transform="rotate(-25.02 150.50 387.50)" fill="#fff" stroke="#111" stroke-width="1.0"/>
<line x1="190.40" y1="405.00" x2="215.90" y2="418.50" stroke="#444" stroke-width="4.6" stroke-linecap="round"/>
<path d="M189.28,407.12 L192.32,403.30 M190.87,407.96 L193.91,404.14 M192.46,408.81 L195.51,404.99 M194.06,409.65 L197.10,405.83 M195.65,410.50 L198.69,406.68 M197.25,411.34 L200.29,407.52 M198.84,412.18 L201.88,408.36 M200.43,413.03 L203.48,409.21 M202.03,413.87 L205.07,410.05 M203.62,414.71 L206.66,410.89 M205.21,415.56 L208.26,411.74 M206.81,416.40 L209.85,412.58 M208.40,417.25 L211.44,413.43 M210.00,418.09 L213.04,414.27 M211.59,418.93 L214.63,415.11 M213.18,419.78 L216.23,415.96 M214.78,420.62 L217.82,416.80" fill="none" stroke="#111" stroke-width="0.9" stroke-linecap="round" stroke-linejoin="round"/>
<polyline points="189.28,407.12 214.78,420.62" fill="none" stroke="#111" stroke-width="0.7" stroke-linecap="round" stroke-linejoin="round"/>
<polyline points="191.52,402.88 217.02,416.38" fill="none" stroke="#111" stroke-width="0.7" stroke-linecap="round" stroke-linejoin="round"/>
<ellipse cx="186.50" cy="403.40" rx="3.60" ry="1.90" transform="rotate(22.00 186.50 403.40)" fill="none" stroke="#111" stroke-width="1.3"/>
<ellipse cx="218.80" cy="420.30" rx="3.60" ry="1.90" transform="rotate(22.00 218.80 420.30)" fill="none" stroke="#111" stroke-width="1.3"/>
<polygon points="214.30,436.80 220.70,433.60 225.40,430.40 230.20,428.80 233.40,433.60 235.00,444.70 233.40,454.30 227.00,462.20 223.80,460.60 222.30,452.70 215.90,446.30 214.30,440.00" fill="#fff" stroke="#111" stroke-width="1.0" stroke-linejoin="round" />
<polyline points="225.40,430.40 228.00,440.00 228.50,452.00 227.00,462.20" fill="none" stroke="#111" stroke-width="0.8" stroke-linecap="round" stroke-linejoin="round"/>
<polyline points="215.90,436.80 223.80,441.60" fill="none" stroke="#111" stroke-width="0.8" stroke-linecap="round" stroke-linejoin="round"/>
<polyline points="217.50,435.50 218.00,440.00 223.80,441.60 223.00,437.00" fill="none" stroke="#111" stroke-width="0.8" stroke-linecap="round" stroke-linejoin="round"/>
<ellipse cx="221.50" cy="444.50" rx="1.30" ry="1.60" transform="rotate(0.00 221.50 444.50)" fill="#fff" stroke="#111" stroke-width="0.8"/>
<ellipse cx="185.50" cy="464.50" rx="1.16" ry="2.10" transform="rotate(-28.46 185.50 464.50)" fill="#fff" stroke="#111" stroke-width="0.9"/>
<polygon points="186.50,466.35 205.50,456.05 203.50,452.35 184.50,462.65" fill="#fff" stroke="none"/>
<polyline points="186.50,466.35 205.50,456.05" fill="none" stroke="#111" stroke-width="0.9" stroke-linecap="round" stroke-linejoin="round"/>
<polyline points="184.50,462.65 203.50,452.35" fill="none" stroke="#111" stroke-width="0.9" stroke-linecap="round" stroke-linejoin="round"/>
<ellipse cx="204.50" cy="454.20" rx="1.16" ry="2.10" transform="rotate(-28.46 204.50 454.20)" fill="#fff" stroke="#111" stroke-width="0.9"/>
<polygon points="180.00,499.20 187.70,494.50 203.00,502.50 203.00,487.40 210.70,483.30 239.00,498.00 239.00,560.50 235.00,562.00 228.40,562.90 207.80,552.90 207.80,545.80 205.40,542.30 201.30,543.40 201.30,549.30 188.90,542.30 180.00,521.00" fill="#fff" stroke="#111" stroke-width="1.0" stroke-linejoin="round" />
<polyline points="180.00,499.20 201.90,510.40 203.00,502.50" fill="none" stroke="#111" stroke-width="0.9" stroke-linecap="round" stroke-linejoin="round"/>
<polyline points="187.70,494.50 187.50,498.50" fill="none" stroke="#111" stroke-width="0.8" stroke-linecap="round" stroke-linejoin="round"/>
<polyline points="203.00,487.40 230.20,501.50 239.00,498.00" fill="none" stroke="#111" stroke-width="0.9" stroke-linecap="round" stroke-linejoin="round"/>
<polyline points="230.20,501.50 228.40,562.90" fill="none" stroke="#111" stroke-width="0.9" stroke-linecap="round" stroke-linejoin="round"/>
<polyline points="234.30,499.80 234.00,561.80" fill="none" stroke="#111" stroke-width="0.8" stroke-linecap="round" stroke-linejoin="round"/>
<polyline points="212.50,486.50 237.00,499.20" fill="none" stroke="#111" stroke-width="0.7" stroke-linecap="round" stroke-linejoin="round"/>
<ellipse cx="187.10" cy="508.60" rx="2.60" ry="3.00" transform="rotate(0.00 187.10 508.60)" fill="#fff" stroke="#111" stroke-width="1.0"/>
<ellipse cx="187.50" cy="509.30" rx="1.20" ry="1.50" transform="rotate(0.00 187.50 509.30)" fill="#fff" stroke="#111" stroke-width="0.6"/>
<ellipse cx="208.90" cy="497.40" rx="2.60" ry="3.00" transform="rotate(0.00 208.90 497.40)" fill="#fff" stroke="#111" stroke-width="1.0"/>
<ellipse cx="209.30" cy="498.10" rx="1.20" ry="1.50" transform="rotate(0.00 209.30 498.10)" fill="#fff" stroke="#111" stroke-width="0.6"/>
<ellipse cx="224.90" cy="506.30" rx="2.60" ry="3.00" transform="rotate(0.00 224.90 506.30)" fill="#fff" stroke="#111" stroke-width="1.0"/>
<ellipse cx="225.30" cy="507.00" rx="1.20" ry="1.50" transform="rotate(0.00 225.30 507.00)" fill="#fff" stroke="#111" stroke-width="0.6"/>
<ellipse cx="219.60" cy="545.80" rx="2.60" ry="3.00" transform="rotate(0.00 219.60 545.80)" fill="#fff" stroke="#111" stroke-width="1.0"/>
<ellipse cx="220.00" cy="546.50" rx="1.20" ry="1.50" transform="rotate(0.00 220.00 546.50)" fill="#fff" stroke="#111" stroke-width="0.6"/>
<ellipse cx="193.50" cy="504.00" rx="2.00" ry="2.30" transform="rotate(0.00 193.50 504.00)" fill="#fff" stroke="#111" stroke-width="0.8"/>
<ellipse cx="182.40" cy="515.10" rx="1.70" ry="1.90" transform="rotate(0.00 182.40 515.10)" fill="#fff" stroke="#111" stroke-width="0.9"/>
<ellipse cx="190.00" cy="538.10" rx="1.70" ry="1.90" transform="rotate(0.00 190.00 538.10)" fill="#fff" stroke="#111" stroke-width="0.9"/>
<ellipse cx="196.00" cy="543.40" rx="1.70" ry="1.90" transform="rotate(0.00 196.00 543.40)" fill="#fff" stroke="#111" stroke-width="0.9"/>
<ellipse cx="205.40" cy="536.40" rx="1.70" ry="1.90" transform="rotate(0.00 205.40 536.40)" fill="#fff" stroke="#111" stroke-width="0.9"/>
<ellipse cx="219.60" cy="533.40" rx="1.70" ry="1.90" transform="rotate(0.00 219.60 533.40)" fill="#fff" stroke="#111" stroke-width="0.9"/>
<ellipse cx="210.10" cy="545.80" rx="1.70" ry="1.90" transform="rotate(0.00 210.10 545.80)" fill="#fff" stroke="#111" stroke-width="0.9"/>
<ellipse cx="224.90" cy="558.20" rx="1.70" ry="1.90" transform="rotate(0.00 224.90 558.20)" fill="#fff" stroke="#111" stroke-width="0.9"/>
<path d="M193.5,521.8 L215.5,534.5 Q217.5,536.5 215.5,538 L193.5,525.5 Q191.5,523.5 193.5,521.8 Z" fill="none" stroke="#111" stroke-width="0.9" stroke-linecap="round" stroke-linejoin="round"/>
<polyline points="195.00,523.80 213.50,534.50" fill="none" stroke="#111" stroke-width="0.7" stroke-linecap="round" stroke-linejoin="round"/>
<ellipse cx="269.80" cy="500.30" rx="2.50" ry="3.20" transform="rotate(25.00 269.80 500.30)" fill="#fff" stroke="#111" stroke-width="1.8"/>
<ellipse cx="168.60" cy="560.40" rx="2.48" ry="4.00" transform="rotate(153.43 168.60 560.40)" fill="#fff" stroke="#111" stroke-width="1.1"/>
<polygon points="166.81,556.82 160.01,560.22 163.59,567.38 170.39,563.98" fill="#fff" stroke="none"/>
<polyline points="166.81,556.82 160.01,560.22" fill="none" stroke="#111" stroke-width="1.1" stroke-linecap="round" stroke-linejoin="round"/>
<polyline points="170.39,563.98 163.59,567.38" fill="none" stroke="#111" stroke-width="1.1" stroke-linecap="round" stroke-linejoin="round"/>
<ellipse cx="161.80" cy="563.80" rx="2.48" ry="4.00" transform="rotate(153.43 161.80 563.80)" fill="#fff" stroke="#111" stroke-width="1.1"/>
<ellipse cx="161.80" cy="563.80" rx="1.60" ry="2.60" transform="rotate(-26.00 161.80 563.80)" fill="#fff" stroke="#111" stroke-width="0.9"/>
<ellipse cx="133.50" cy="579.00" rx="1.32" ry="2.40" transform="rotate(-28.56 133.50 579.00)" fill="#fff" stroke="#111" stroke-width="1.0"/>
<polygon points="134.65,581.11 149.35,573.11 147.05,568.89 132.35,576.89" fill="#fff" stroke="none"/>
<polyline points="134.65,581.11 149.35,573.11" fill="none" stroke="#111" stroke-width="1.0" stroke-linecap="round" stroke-linejoin="round"/>
<polyline points="132.35,576.89 147.05,568.89" fill="none" stroke="#111" stroke-width="1.0" stroke-linecap="round" stroke-linejoin="round"/>
<ellipse cx="148.20" cy="571.00" rx="1.32" ry="2.40" transform="rotate(-28.56 148.20 571.00)" fill="#fff" stroke="#111" stroke-width="1.0"/>
<ellipse cx="132.50" cy="579.60" rx="2.90" ry="3.90" transform="rotate(28.00 132.50 579.60)" fill="#fff" stroke="#111" stroke-width="1.0"/>
<polyline points="145.00,571.80 146.50,574.80" fill="none" stroke="#111" stroke-width="1.3" stroke-linecap="round" stroke-linejoin="round"/>
<polygon points="192.50,582.10 208.00,592.50 214.20,591.50 217.90,592.90 226.40,600.90 226.90,604.20 222.20,606.60 211.80,600.90 208.00,597.20 199.50,593.40 192.50,584.90" fill="#fff" stroke="#111" stroke-width="1.0" stroke-linejoin="round" />
<polyline points="194.00,583.50 207.50,594.50" fill="none" stroke="#111" stroke-width="1.4" stroke-linecap="round" stroke-linejoin="round"/>
<polyline points="200.00,591.50 207.50,595.50" fill="none" stroke="#111" stroke-width="1.4" stroke-linecap="round" stroke-linejoin="round"/>
<ellipse cx="212.70" cy="598.60" rx="1.80" ry="2.10" transform="rotate(0.00 212.70 598.60)" fill="#fff" stroke="#111" stroke-width="0.9"/>
<polyline points="222.20,606.60 224.50,602.00 226.40,600.90" fill="none" stroke="#111" stroke-width="0.8" stroke-linecap="round" stroke-linejoin="round"/>
<ellipse cx="173.50" cy="620.00" rx="1.21" ry="2.20" transform="rotate(-24.86 173.50 620.00)" fill="#fff" stroke="#111" stroke-width="0.9"/>
<polygon points="174.43,622.00 194.93,612.50 193.07,608.50 172.57,618.00" fill="#fff" stroke="none"/>
<polyline points="174.43,622.00 194.93,612.50" fill="none" stroke="#111" stroke-width="0.9" stroke-linecap="round" stroke-linejoin="round"/>
<polyline points="172.57,618.00 193.07,608.50" fill="none" stroke="#111" stroke-width="0.9" stroke-linecap="round" stroke-linejoin="round"/>
<ellipse cx="194.00" cy="610.50" rx="1.21" ry="2.20" transform="rotate(-24.86 194.00 610.50)" fill="#fff" stroke="#111" stroke-width="0.9"/>
<line x1="217.40" y1="630.50" x2="218.20" y2="639.80" stroke="#333" stroke-width="5.0" stroke-linecap="round"/>
<ellipse cx="217.40" cy="629.80" rx="2.40" ry="1.10" transform="rotate(0.00 217.40 629.80)" fill="#777" stroke="#111" stroke-width="0.8"/>
<ellipse cx="245.50" cy="644.80" rx="1.54" ry="2.80" transform="rotate(-20.83 245.50 644.80)" fill="#fff" stroke="#111" stroke-width="0.9"/>
<polygon points="246.50,647.42 267.00,639.62 265.00,634.38 244.50,642.18" fill="#fff" stroke="none"/>
<polyline points="246.50,647.42 267.00,639.62" fill="none" stroke="#111" stroke-width="0.9" stroke-linecap="round" stroke-linejoin="round"/>
<polyline points="244.50,642.18 265.00,634.38" fill="none" stroke="#111" stroke-width="0.9" stroke-linecap="round" stroke-linejoin="round"/>
<ellipse cx="266.00" cy="637.00" rx="1.54" ry="2.80" transform="rotate(-20.83 266.00 637.00)" fill="#fff" stroke="#111" stroke-width="0.9"/>
<ellipse cx="243.20" cy="658.80" rx="1.54" ry="2.80" transform="rotate(-37.27 243.20 658.80)" fill="#fff" stroke="#111" stroke-width="0.9"/>
<polygon points="244.90,661.03 249.50,657.53 246.10,653.07 241.50,656.57" fill="#fff" stroke="none"/>
<polyline points="244.90,661.03 249.50,657.53" fill="none" stroke="#111" stroke-width="0.9" stroke-linecap="round" stroke-linejoin="round"/>
<polyline points="241.50,656.57 246.10,653.07" fill="none" stroke="#111" stroke-width="0.9" stroke-linecap="round" stroke-linejoin="round"/>
<ellipse cx="247.80" cy="655.30" rx="1.54" ry="2.80" transform="rotate(-37.27 247.80 655.30)" fill="#fff" stroke="#111" stroke-width="0.9"/>
<polygon points="216.60,655.60 221.50,651.80 225.00,653.20 228.50,650.00 232.00,650.50 234.50,654.00 234.50,658.00 239.30,660.50 239.30,665.00 234.30,667.50 216.60,657.50" fill="#fff" stroke="#111" stroke-width="1.0" stroke-linejoin="round" />
<polyline points="216.60,656.50 233.50,664.50 239.30,660.50" fill="none" stroke="#111" stroke-width="0.8" stroke-linecap="round" stroke-linejoin="round"/>
<polyline points="233.50,664.50 234.30,667.50" fill="none" stroke="#111" stroke-width="0.8" stroke-linecap="round" stroke-linejoin="round"/>
<ellipse cx="227.30" cy="656.20" rx="3.20" ry="3.70" transform="rotate(0.00 227.30 656.20)" fill="#fff" stroke="#111" stroke-width="1.0"/>
<ellipse cx="227.60" cy="656.50" rx="1.60" ry="2.00" transform="rotate(0.00 227.60 656.50)" fill="#fff" stroke="#111" stroke-width="0.8"/>
<ellipse cx="221.30" cy="653.60" rx="1.50" ry="1.30" transform="rotate(0.00 221.30 653.60)" fill="#fff" stroke="#111" stroke-width="0.8"/>
<line x1="233.80" y1="679.50" x2="234.30" y2="685.50" stroke="#333" stroke-width="5.0" stroke-linecap="round"/>
<ellipse cx="233.80" cy="679.50" rx="2.50" ry="1.30" transform="rotate(0.00 233.80 679.50)" fill="#fff" stroke="#111" stroke-width="0.9"/>
<polygon points="189.00,676.50 192.30,671.30 201.70,668.50 211.10,674.20 215.80,672.30 218.20,675.60 217.30,677.90 204.50,684.50 201.70,683.60 189.40,678.40" fill="#fff" stroke="#111" stroke-width="1.0" stroke-linejoin="round" />
<polyline points="189.40,678.40 192.50,674.00 201.50,677.80 204.50,684.50" fill="none" stroke="#111" stroke-width="0.8" stroke-linecap="round" stroke-linejoin="round"/>
<polyline points="201.50,677.80 211.10,674.20" fill="none" stroke="#111" stroke-width="0.8" stroke-linecap="round" stroke-linejoin="round"/>
<ellipse cx="196.50" cy="673.50" rx="1.20" ry="1.60" transform="rotate(30.00 196.50 673.50)" fill="#fff" stroke="#111" stroke-width="0.8"/>
<ellipse cx="203.00" cy="676.00" rx="1.20" ry="1.60" transform="rotate(30.00 203.00 676.00)" fill="#fff" stroke="#111" stroke-width="0.8"/>
<ellipse cx="199.50" cy="679.50" rx="1.00" ry="1.30" transform="rotate(30.00 199.50 679.50)" fill="#fff" stroke="#111" stroke-width="0.7"/>
<polygon points="209.20,678.40 215.80,676.00 221.50,691.10 217.70,695.40" fill="#fff" stroke="#111" stroke-width="1.0" stroke-linejoin="round" />
<path d="M209.2,691.1 C222,695 233,705 234.7,714.7 C235.5,720 235,723 233.5,724.5 L223.4,729.5 C222.5,727 226.5,720 226,714 C225,707 219,699 209.2,693 Z" fill="#fff" stroke="#111" stroke-width="1.0" stroke-linecap="round" stroke-linejoin="round"/>
<path d="M210,692 C220,697 228.5,705 229.5,714 C230,720 227,725 223.4,729.5" fill="none" stroke="#111" stroke-width="0.8" stroke-linecap="round" stroke-linejoin="round"/>
<ellipse cx="191.50" cy="691.50" rx="1.49" ry="2.70" transform="rotate(-34.99 191.50 691.50)" fill="#fff" stroke="#111" stroke-width="0.9"/>
<polygon points="193.05,693.71 198.05,690.21 194.95,685.79 189.95,689.29" fill="#fff" stroke="none"/>
<polyline points="193.05,693.71 198.05,690.21" fill="none" stroke="#111" stroke-width="0.9" stroke-linecap="round" stroke-linejoin="round"/>
<polyline points="189.95,689.29 194.95,685.79" fill="none" stroke="#111" stroke-width="0.9" stroke-linecap="round" stroke-linejoin="round"/>
<ellipse cx="196.50" cy="688.00" rx="1.49" ry="2.70" transform="rotate(-34.99 196.50 688.00)" fill="#fff" stroke="#111" stroke-width="0.9"/>
<ellipse cx="157.00" cy="702.50" rx="1.16" ry="2.10" transform="rotate(-32.31 157.00 702.50)" fill="#fff" stroke="#111" stroke-width="0.9"/>
<polygon points="158.12,704.27 176.62,692.57 174.38,689.03 155.88,700.73" fill="#fff" stroke="none"/>
<polyline points="158.12,704.27 176.62,692.57" fill="none" stroke="#111" stroke-width="0.9" stroke-linecap="round" stroke-linejoin="round"/>
<polyline points="155.88,700.73 174.38,689.03" fill="none" stroke="#111" stroke-width="0.9" stroke-linecap="round" stroke-linejoin="round"/>
<ellipse cx="175.50" cy="690.80" rx="1.16" ry="2.10" transform="rotate(-32.31 175.50 690.80)" fill="#fff" stroke="#111" stroke-width="0.9"/>
<line x1="203.60" y1="707.50" x2="204.60" y2="715.50" stroke="#111" stroke-width="3.6" stroke-linecap="round"/>
<line x1="209.20" y1="710.00" x2="210.20" y2="718.20" stroke="#111" stroke-width="3.6" stroke-linecap="round"/>
<ellipse cx="294.50" cy="783.50" rx="1.26" ry="2.30" transform="rotate(-28.81 294.50 783.50)" fill="#fff" stroke="#111" stroke-width="0.9"/>
<polygon points="295.61,785.52 315.61,774.52 313.39,770.48 293.39,781.48" fill="#fff" stroke="none"/>
<polyline points="295.61,785.52 315.61,774.52" fill="none" stroke="#111" stroke-width="0.9" stroke-linecap="round" stroke-linejoin="round"/>
<polyline points="293.39,781.48 313.39,770.48" fill="none" stroke="#111" stroke-width="0.9" stroke-linecap="round" stroke-linejoin="round"/>
<ellipse cx="314.50" cy="772.50" rx="1.26" ry="2.30" transform="rotate(-28.81 314.50 772.50)" fill="#fff" stroke="#111" stroke-width="0.9"/>
<ellipse cx="293.80" cy="784.00" rx="2.60" ry="3.90" transform="rotate(29.00 293.80 784.00)" fill="#fff" stroke="#111" stroke-width="1.0"/>
<polygon points="332.80,750.50 338.00,749.80 338.60,754.40 338.00,760.90 344.50,768.60 345.80,772.50 343.20,773.80 338.00,769.90 337.30,773.80 335.40,775.10 333.40,772.50 330.80,763.40 332.10,758.30" fill="#fff" stroke="#111" stroke-width="1.0" stroke-linejoin="round" />
<ellipse cx="334.70" cy="764.10" rx="1.40" ry="1.70" transform="rotate(0.00 334.70 764.10)" fill="#fff" stroke="#111" stroke-width="0.8"/>
<polyline points="332.80,750.50 334.50,752.00 338.60,754.40" fill="none" stroke="#111" stroke-width="0.7" stroke-linecap="round" stroke-linejoin="round"/>
<ellipse cx="362.00" cy="761.20" rx="6.40" ry="2.80" transform="rotate(22.00 362.00 761.20)" fill="#333" stroke="#111" stroke-width="1.0"/>
<ellipse cx="362.00" cy="761.20" rx="3.60" ry="1.20" transform="rotate(22.00 362.00 761.20)" fill="#999" stroke="#111" stroke-width="0.5"/>
<polygon points="331.50,718.70 335.40,718.00 345.80,727.10 397.70,754.40 398.30,757.00 392.50,760.90 374.30,755.70 344.50,737.50 339.30,734.90 332.80,728.40 330.80,720.60" fill="#fff" stroke="#111" stroke-width="1.0" stroke-linejoin="round" />
<polyline points="335.40,718.00 335.50,722.50 346.00,731.00 393.50,756.50 398.30,757.00" fill="none" stroke="#111" stroke-width="0.8" stroke-linecap="round" stroke-linejoin="round"/>
<polyline points="393.50,756.50 392.50,760.90" fill="none" stroke="#111" stroke-width="0.8" stroke-linecap="round" stroke-linejoin="round"/>
<path d="M346.5,732.5 L353.5,736 Q355,737.5 353.5,738.5 L346.5,735 Q345,733.8 346.5,732.5 Z" fill="none" stroke="#111" stroke-width="0.9" stroke-linecap="round" stroke-linejoin="round"/>
<polyline points="359.50,741.00 370.00,747.00" fill="none" stroke="#111" stroke-width="2.2" stroke-linecap="round" stroke-linejoin="round"/>
<polygon points="360.70,727.70 362.60,726.50 391.20,744.00 392.50,747.20 389.90,748.50 361.30,733.60 360.30,730.40" fill="#fff" stroke="#111" stroke-width="1.0" stroke-linejoin="round" />
<path d="M364.5,730 L371,733.5 Q372.5,735 371,736 L364.5,732.5 Q363,731 364.5,730 Z" fill="#fff" stroke="#111" stroke-width="1.1" stroke-linecap="round" stroke-linejoin="round"/>
<path d="M377.5,738.5 L389,745 Q390.5,746.5 389,747.2 L377.5,741 Q376,739.5 377.5,738.5 Z" fill="#fff" stroke="#111" stroke-width="1.1" stroke-linecap="round" stroke-linejoin="round"/>
<polyline points="370.50,744.00 370.80,752.50" fill="none" stroke="#111" stroke-width="1.6" stroke-linecap="round" stroke-linejoin="round"/>
<polyline points="360.50,747.80 361.50,749.00" fill="none" stroke="#111" stroke-width="2.0" stroke-linecap="round" stroke-linejoin="round"/>
<polyline points="375.00,755.50 375.50,758.50" fill="none" stroke="#111" stroke-width="2.0" stroke-linecap="round" stroke-linejoin="round"/>
<polygon points="365.90,681.70 372.40,680.40 375.00,685.60 376.30,697.30 375.00,705.00 374.30,714.80 370.40,714.80 369.10,707.00 369.80,699.90 366.50,689.50" fill="#fff" stroke="#111" stroke-width="1.0" stroke-linejoin="round" />
<ellipse cx="371.70" cy="696.00" rx="1.70" ry="2.10" transform="rotate(0.00 371.70 696.00)" fill="#fff" stroke="#111" stroke-width="0.9"/>
<polyline points="369.10,706.50 375.00,705.50" fill="none" stroke="#111" stroke-width="0.8" stroke-linecap="round" stroke-linejoin="round"/>
<ellipse cx="371.80" cy="710.50" rx="0.90" ry="1.60" transform="rotate(0.00 371.80 710.50)" fill="#fff" stroke="#111" stroke-width="0.6"/>
<ellipse cx="377.50" cy="686.50" rx="2.64" ry="4.80" transform="rotate(-23.20 377.50 686.50)" fill="#222" stroke="#111" stroke-width="1.0"/>
<polygon points="379.39,690.91 386.39,687.91 382.61,679.09 375.61,682.09" fill="#222" stroke="none"/>
<polyline points="379.39,690.91 386.39,687.91" fill="none" stroke="#111" stroke-width="1.0" stroke-linecap="round" stroke-linejoin="round"/>
<polyline points="375.61,682.09 382.61,679.09" fill="none" stroke="#111" stroke-width="1.0" stroke-linecap="round" stroke-linejoin="round"/>
<ellipse cx="384.50" cy="683.50" rx="2.64" ry="4.80" transform="rotate(-23.20 384.50 683.50)" fill="#222" stroke="#111" stroke-width="1.0"/>
<ellipse cx="377.50" cy="686.50" rx="2.20" ry="4.60" transform="rotate(-23.00 377.50 686.50)" fill="#fff" stroke="#111" stroke-width="1.0"/>
<ellipse cx="372.00" cy="683.00" rx="1.80" ry="1.60" transform="rotate(0.00 372.00 683.00)" fill="#fff" stroke="#111" stroke-width="0.8"/>
<ellipse cx="378.50" cy="641.80" rx="1.43" ry="2.60" transform="rotate(-26.57 378.50 641.80)" fill="#fff" stroke="#111" stroke-width="1.0"/>
<polygon points="379.66,644.13 397.66,635.13 395.34,630.47 377.34,639.47" fill="#fff" stroke="none"/>
<polyline points="379.66,644.13 397.66,635.13" fill="none" stroke="#111" stroke-width="1.0" stroke-linecap="round" stroke-linejoin="round"/>
<polyline points="377.34,639.47 395.34,630.47" fill="none" stroke="#111" stroke-width="1.0" stroke-linecap="round" stroke-linejoin="round"/>
<ellipse cx="396.50" cy="632.80" rx="1.43" ry="2.60" transform="rotate(-26.57 396.50 632.80)" fill="#fff" stroke="#111" stroke-width="1.0"/>
<ellipse cx="377.70" cy="642.50" rx="2.90" ry="4.00" transform="rotate(27.00 377.70 642.50)" fill="#fff" stroke="#111" stroke-width="1.1"/>
<ellipse cx="394.50" cy="633.80" rx="1.30" ry="2.80" transform="rotate(27.00 394.50 633.80)" fill="#fff" stroke="#111" stroke-width="0.9"/>
<path d="M418.4,634.5 Q418.5,638 417.4,639.1 L412.4,641.9 L417.7,647.6 Q418.5,657 418.4,666.7" fill="none" stroke="#111" stroke-width="1.4" stroke-linecap="round" stroke-linejoin="round"/>
<path d="M406.4,656.8 Q410,657 411.7,658.6 L417.4,665.3" fill="none" stroke="#111" stroke-width="1.4" stroke-linecap="round" stroke-linejoin="round"/>
<ellipse cx="419.60" cy="670.20" rx="3.40" ry="2.90" transform="rotate(0.00 419.60 670.20)" fill="#111" stroke="#111" stroke-width="0.8"/>
<ellipse cx="392.00" cy="723.90" rx="2.60" ry="3.10" transform="rotate(25.00 392.00 723.90)" fill="#fff" stroke="#111" stroke-width="1.8"/>
<path d="M449.6,471.7 Q443.3,474.2 443.3,478.3 Q443.3,482.5 445.8,484.2 L580,566.5 C592,572 600,578 603.6,583 C608,592 611,604 611.8,613.7 Q613,617.5 617,617.8 Q626,618.5 635.2,613.1 L694.9,665.2 M700.7,615 L688.4,609.8 Q683,604 680.6,602 L672.8,596.2 L644.3,580 L624.8,569.5 Q618,564 613,554.7" fill="none" stroke="#111" stroke-width="1.05" stroke-linecap="round" stroke-linejoin="round"/>
<path d="M449.6,471.7 Q451,470.6 452.1,470.8 Q455,471.5 457.1,475 L456.25,476.7" fill="none" stroke="#111" stroke-width="1.0" stroke-linecap="round" stroke-linejoin="round"/>
<path d="M456.25,476.7 L595.3,557.1" fill="none" stroke="#333" stroke-width="1.9" stroke-linecap="round" stroke-linejoin="round"/>
<path d="M457.1,475 L524.8,512.3 Q529,507.5 534,512 Q536.5,515 536.3,518.9 L600,554.5" fill="none" stroke="#111" stroke-width="0.9" stroke-linecap="round" stroke-linejoin="round"/>
<path d="M454.2,470.8 Q454.2,467.5 456,466.8 Q458,465.2 460,465.4 Q462,465.5 462.5,466.7 L464.2,470" fill="none" stroke="#111" stroke-width="1.0" stroke-linecap="round" stroke-linejoin="round"/>
<path d="M460,465.4 L611.8,551.8" fill="none" stroke="#333" stroke-width="1.9" stroke-linecap="round" stroke-linejoin="round"/>
<path d="M611.8,551.8 Q615.5,556 609.5,559.5 Q603.5,561.5 595.3,557.1" fill="none" stroke="#111" stroke-width="1.0" stroke-linecap="round" stroke-linejoin="round"/>
<path d="M463.75,470.4 L475.8,476.7 L475.8,480.4 L463.75,474.2 Z" fill="none" stroke="#111" stroke-width="0.9" stroke-linecap="round" stroke-linejoin="round"/>
<polyline points="464.20,473.80 475.50,479.80" fill="none" stroke="#111" stroke-width="1.4" stroke-linecap="round" stroke-linejoin="round"/>
<path d="M583,543.5 L603,553.5 L607.5,555 L605,550 L596,545.5" fill="none" stroke="#111" stroke-width="0.9" stroke-linecap="round" stroke-linejoin="round"/>
<polyline points="581.50,543.80 595.00,551.50" fill="none" stroke="#111" stroke-width="1.6" stroke-linecap="round" stroke-linejoin="round"/>
<ellipse cx="487.80" cy="505.50" rx="1.60" ry="2.10" transform="rotate(20.00 487.80 505.50)" fill="#fff" stroke="#111" stroke-width="0.8"/>
<path d="M672.8,596.2 Q667.6,598.8 667,604 Q666.8,613.7 664.5,620 Q662.4,625.4 656,624.1 Q648,620 640.4,610.5" fill="none" stroke="#111" stroke-width="1.0" stroke-linecap="round" stroke-linejoin="round"/>
<path d="M625.4,570.7 Q625.5,577.1 620,581.9" fill="none" stroke="#111" stroke-width="1.0" stroke-linecap="round" stroke-linejoin="round"/>
<ellipse cx="698.30" cy="640.40" rx="6.60" ry="25.20" transform="rotate(6.00 698.30 640.40)" fill="#fff" stroke="#111" stroke-width="1.0"/>
<circle cx="699.8" cy="632.5" r="1.3" fill="#fff" stroke="#111" stroke-width="0.8"/><circle cx="698.5" cy="652.8" r="1.3" fill="#fff" stroke="#111" stroke-width="0.8"/>
<path d="M723.4,628.6 C728,629 731,636 730.5,645 C730,656 729,668 722.7,674 C720,675 717,672 716,668 C714,658 714,645 715.6,638.4 C716.5,632 719,628.5 723.4,628.6 Z" fill="#fff" stroke="#111" stroke-width="1.0" stroke-linecap="round" stroke-linejoin="round"/>
<path d="M720.5,629.8 C717.8,640 717.8,660 719.8,673.5" fill="none" stroke="#111" stroke-width="0.8" stroke-linecap="round" stroke-linejoin="round"/>
<circle cx="725" cy="639.5" r="1.3" fill="#fff" stroke="#111" stroke-width="0.8"/><circle cx="723.5" cy="660" r="1.3" fill="#fff" stroke="#111" stroke-width="0.8"/>
<line x1="752.50" y1="643.80" x2="762.50" y2="650.00" stroke="#111" stroke-width="3.0" stroke-linecap="round"/>
<ellipse cx="764.20" cy="650.80" rx="1.60" ry="2.60" transform="rotate(32.00 764.20 650.80)" fill="#222" stroke="#111" stroke-width="0.8"/>
<line x1="748.00" y1="674.80" x2="758.00" y2="681.00" stroke="#111" stroke-width="3.0" stroke-linecap="round"/>
<ellipse cx="759.70" cy="681.80" rx="1.60" ry="2.60" transform="rotate(32.00 759.70 681.80)" fill="#222" stroke="#111" stroke-width="0.8"/>
<path d="M551.7,576.8 Q552.5,574.5 555.4,574.5 L584.4,589.3 Q585.8,590.5 584.9,592.4 L583.4,597 Q581,601.5 578.7,603.3 Q576.5,604.5 574,603.8 Q570,603.3 567.3,601.2 Q562,597 559,591.9 Q555,586 552.8,581.5 Q551,579 551.7,576.8 Z" fill="#fff" stroke="#111" stroke-width="1.2" stroke-linecap="round" stroke-linejoin="round"/>
<path d="M557.4,578.4 L580.3,587.7 Q581.5,589.5 578.7,590.8 L556.9,581.5 Q555.5,579.5 557.4,578.4 Z" fill="#222" stroke="#111" stroke-width="0.9" stroke-linecap="round" stroke-linejoin="round"/>
<polyline points="559.50,580.00 577.50,587.80" fill="none" stroke="#bbb" stroke-width="0.5" stroke-linecap="round" stroke-linejoin="round"/>
<polyline points="559.00,581.50 575.00,588.50" fill="none" stroke="#bbb" stroke-width="0.5" stroke-linecap="round" stroke-linejoin="round"/>
<ellipse cx="555.00" cy="576.80" rx="2.00" ry="1.30" transform="rotate(25.00 555.00 576.80)" fill="#222" stroke="#111" stroke-width="0.8"/>
<path d="M552.8,578.5 L583,592.5" fill="none" stroke="#111" stroke-width="0.9" stroke-linecap="round" stroke-linejoin="round"/>
<path d="M559,586.2 Q561,585.8 562.1,586.7 Q567,589 570.9,592.4 Q575.5,595 578.2,597 L578.7,603.3" fill="none" stroke="#111" stroke-width="0.9" stroke-linecap="round" stroke-linejoin="round"/>
<path d="M565.2,588.7 L576.1,600.2" fill="none" stroke="#111" stroke-width="0.8" stroke-linecap="round" stroke-linejoin="round"/>
<polyline points="578.20,597.00 584.00,593.50" fill="none" stroke="#111" stroke-width="0.8" stroke-linecap="round" stroke-linejoin="round"/>
<ellipse cx="568.90" cy="597.30" rx="1.40" ry="1.10" transform="rotate(20.00 568.90 597.30)" fill="#fff" stroke="#111" stroke-width="0.8"/>
<line x1="555.90" y1="598.50" x2="555.90" y2="602.00" stroke="#111" stroke-width="2.0" stroke-linecap="round"/>
<ellipse cx="555.90" cy="603.20" rx="2.00" ry="1.10" transform="rotate(0.00 555.90 603.20)" fill="#fff" stroke="#111" stroke-width="0.9"/>
<line x1="578.20" y1="612.80" x2="578.20" y2="620.50" stroke="#111" stroke-width="3.2" stroke-linecap="round"/>
<path d="M575.5,621 L580.8,621 L578.2,624 Z" fill="#111" stroke="#111" stroke-width="0.8" stroke-linecap="round" stroke-linejoin="round"/>
<ellipse cx="512.90" cy="489.50" rx="2.10" ry="2.40" transform="rotate(0.00 512.90 489.50)" fill="#fff" stroke="#111" stroke-width="1.7"/>
<ellipse cx="520.50" cy="484.50" rx="1.10" ry="2.00" transform="rotate(-28.81 520.50 484.50)" fill="#fff" stroke="#111" stroke-width="0.9"/>
<polygon points="521.46,486.25 535.46,478.55 533.54,475.05 519.54,482.75" fill="#fff" stroke="none"/>
<polyline points="521.46,486.25 535.46,478.55" fill="none" stroke="#111" stroke-width="0.9" stroke-linecap="round" stroke-linejoin="round"/>
<polyline points="519.54,482.75 533.54,475.05" fill="none" stroke="#111" stroke-width="0.9" stroke-linecap="round" stroke-linejoin="round"/>
<ellipse cx="534.50" cy="476.80" rx="1.10" ry="2.00" transform="rotate(-28.81 534.50 476.80)" fill="#fff" stroke="#111" stroke-width="0.9"/>
<line x1="520.00" y1="485.00" x2="525.00" y2="482.20" stroke="#111" stroke-width="3.5" stroke-linecap="round"/>
<circle cx="461.3" cy="517.5" r="1.1" fill="#111"/>
<ellipse cx="469.00" cy="514.30" rx="2.70" ry="2.90" transform="rotate(0.00 469.00 514.30)" fill="#333" stroke="#111" stroke-width="1.0"/>
<ellipse cx="477.30" cy="510.20" rx="2.40" ry="2.90" transform="rotate(20.00 477.30 510.20)" fill="#333" stroke="#111" stroke-width="1.0"/>
<ellipse cx="477.30" cy="510.20" rx="1.00" ry="1.40" transform="rotate(20.00 477.30 510.20)" fill="#fff" stroke="#111" stroke-width="0.5"/>
<path d="M459,518.8 L463.2,517.2 L460.5,520.5 Z" fill="#111" stroke="#111" stroke-width="0.6" stroke-linecap="round" stroke-linejoin="round"/>
<g fill="none" stroke="#1a1a1a" stroke-width="1.05" stroke-linecap="round" stroke-linejoin="round">
<polyline points="282.75,30.50 229.50,72.00"/>
<polyline points="153.25,131.25 221.25,91.50"/>
<polyline points="322.00,54.50 261.25,95.75"/>
<polyline points="356.00,74.50 367.50,138.75"/>
<polyline points="205.75,164.50 252.00,137.00 370.00,178.75"/>
<polyline points="242.50,186.25 310.00,166.25 368.75,188.75"/>
<polyline points="411.25,109.50 394.25,158.75"/>
<polyline points="461.75,139.25 408.75,182.50"/>
<polyline points="515.50,172.50 428.75,201.25"/>
<polyline points="563.75,202.50 443.00,209.50"/>
<polyline points="605.50,228.00 588.75,255.50"/>
<polyline points="642.00,250.00 592.50,266.25"/>
<polyline points="680.00,272.50 621.25,297.50"/>
<polyline points="707.50,290.00 651.25,315.00"/>
<polyline points="755.00,319.50 711.25,350.00"/>
<polyline points="336.20,243.20 372.50,224.60"/>
<polyline points="417.00,294.50 446.25,238.75"/>
<polyline points="447.00,312.00 453.25,238.75"/>
<polyline points="471.75,327.00 460.00,266.25 466.25,250.00"/>
<polyline points="553.20,375.50 541.90,276.60"/>
<polyline points="580.60,393.00 581.10,351.50 581.50,315.70"/>
<polyline points="581.10,351.50 557.50,301.10"/>
<polyline points="581.10,351.50 566.00,307.20"/>
<polyline points="858.00,380.50 783.75,389.50"/>
<polyline points="905.00,75.00 902.50,110.50"/>
<polyline points="834.50,100.00 873.75,132.50"/>
<polyline points="981.75,101.75 925.00,147.50"/>
<polyline points="954.50,122.00 908.00,135.50"/>
<polyline points="1000.50,136.25 959.50,143.25"/>
<polyline points="822.50,112.50 847.50,127.50 873.75,171.25"/>
<polyline points="809.50,145.50 844.50,161.25"/>
<polyline points="805.75,188.00 831.25,198.75"/>
<polyline points="817.00,220.00 822.50,205.00"/>
<polyline points="1015.00,200.00 939.50,165.50"/>
<polyline points="828.00,242.50 852.00,198.75"/>
<polyline points="882.50,271.25 885.50,250.00"/>
<polyline points="929.00,271.25 905.75,232.00"/>
<polyline points="972.00,253.75 903.25,205.00"/>
<polyline points="950.50,237.50 947.50,188.75 895.00,190.50"/>
<polyline points="919.60,419.10 868.00,446.60"/>
<polyline points="951.60,438.10 887.30,457.10"/>
<polyline points="995.00,464.40 924.70,484.80"/>
<polyline points="1038.90,491.40 970.00,506.10"/>
<polyline points="1102.60,531.00 988.40,511.80"/>
<polyline points="850.40,558.50 958.70,535.30"/>
<polyline points="900.30,587.90 956.20,548.30"/>
<polyline points="933.60,608.40 957.60,564.60"/>
<polyline points="491.10,424.60 511.80,486.30"/>
<polyline points="529.30,450.40 524.50,477.80"/>
<polyline points="583.50,486.30 569.90,523.20"/>
<polyline points="399.80,525.40 462.20,518.10"/>
<polyline points="427.60,544.40 467.80,520.90"/>
<polyline points="460.80,565.70 479.20,513.30"/>
<polyline points="494.80,588.40 552.90,587.00"/>
<polyline points="444.30,615.00 392.60,632.00"/>
<polyline points="538.50,617.30 555.90,604.60"/>
<polyline points="580.20,644.20 578.10,624.40"/>
<polyline points="739.50,591.10 726.50,622.20"/>
<polyline points="825.00,646.80 788.20,662.20 759.70,678.70"/>
<polyline points="788.20,662.20 765.70,647.70"/>
<polyline points="291.60,348.10 217.40,366.80"/>
<polyline points="291.60,390.20 217.40,414.10"/>
<polyline points="108.25,393.10 133.00,394.30"/>
<polyline points="291.60,435.20 233.10,451.60"/>
<polyline points="109.40,466.70 181.40,464.00"/>
<polyline points="291.60,468.50 245.50,510.80"/>
<polyline points="291.60,496.60 273.60,503.40"/>
<polyline points="110.00,534.10 160.00,558.90"/>
<polyline points="96.55,602.80 131.90,585.90"/>
<polyline points="291.60,533.00 227.50,593.80"/>
<polyline points="291.60,600.50 251.10,637.60"/>
<polyline points="291.10,651.10 251.20,657.00"/>
<polyline points="96.50,651.90 171.25,623.00"/>
<polyline points="109.80,697.40 214.50,639.00"/>
<polyline points="109.80,738.00 165.10,702.00"/>
<polyline points="109.80,785.00 193.40,694.30"/>
<polyline points="170.80,817.10 187.70,766.20 201.60,718.70"/>
<polyline points="187.70,766.20 210.10,720.00"/>
<polyline points="225.00,815.60 235.80,725.10"/>
<polyline points="291.10,691.70 238.40,665.50"/>
<polyline points="291.10,720.00 235.80,687.80"/>
<polyline points="304.40,764.20 306.50,770.90"/>
<polyline points="332.20,814.60 327.10,772.70"/>
<polyline points="444.30,650.80 426.00,652.40"/>
<polyline points="444.30,688.90 383.40,703.20"/>
<polyline points="445.80,729.30 403.20,721.40"/>
<polyline points="456.50,774.10 423.00,733.00 394.10,740.60"/>
<polyline points="375.20,813.60 359.70,768.00"/>
<polyline points="419.90,813.60 398.60,763.40"/>
</g>
<g fill="#fff" stroke="#2a2a2a" stroke-width="0.9">
<circle cx="283.50" cy="17.00" r="13.6"/>
<circle cx="322.75" cy="40.50" r="13.6"/>
<circle cx="356.00" cy="60.75" r="13.6"/>
<circle cx="411.50" cy="95.75" r="13.6"/>
<circle cx="461.75" cy="125.50" r="13.6"/>
<circle cx="516.75" cy="158.75" r="13.6"/>
<circle cx="565.00" cy="188.75" r="13.6"/>
<circle cx="606.25" cy="213.75" r="13.6"/>
<circle cx="643.00" cy="236.25" r="13.6"/>
<circle cx="681.00" cy="259.50" r="13.6"/>
<circle cx="708.25" cy="276.25" r="13.6"/>
<circle cx="755.75" cy="305.50" r="13.6"/>
<circle cx="152.00" cy="145.00" r="13.6"/>
<circle cx="205.75" cy="178.25" r="13.6"/>
<circle cx="242.50" cy="200.00" r="13.6"/>
<circle cx="335.40" cy="256.90" r="13.6"/>
<circle cx="416.25" cy="308.00" r="13.6"/>
<circle cx="447.00" cy="325.50" r="13.6"/>
<circle cx="471.75" cy="340.50" r="13.6"/>
<circle cx="553.20" cy="388.90" r="13.6"/>
<circle cx="580.40" cy="406.20" r="13.6"/>
<circle cx="858.00" cy="367.00" r="13.6"/>
<circle cx="919.60" cy="405.50" r="13.6"/>
<circle cx="951.60" cy="424.80" r="13.6"/>
<circle cx="995.00" cy="450.80" r="13.6"/>
<circle cx="1038.90" cy="477.80" r="13.6"/>
<circle cx="1104.60" cy="518.00" r="13.6"/>
<circle cx="850.40" cy="571.30" r="13.6"/>
<circle cx="898.90" cy="601.40" r="13.6"/>
<circle cx="932.90" cy="621.90" r="13.6"/>
<circle cx="490.50" cy="410.40" r="13.6"/>
<circle cx="529.30" cy="436.80" r="13.6"/>
<circle cx="583.50" cy="472.20" r="13.6"/>
<circle cx="399.30" cy="538.80" r="13.6"/>
<circle cx="427.60" cy="557.20" r="13.6"/>
<circle cx="460.20" cy="578.40" r="13.6"/>
<circle cx="494.80" cy="602.00" r="13.6"/>
<circle cx="456.50" cy="613.00" r="13.6"/>
<circle cx="538.50" cy="630.75" r="13.6"/>
<circle cx="580.00" cy="657.60" r="13.6"/>
<circle cx="739.90" cy="576.10" r="13.6"/>
<circle cx="826.80" cy="633.00" r="13.6"/>
<circle cx="305.10" cy="348.10" r="13.6"/>
<circle cx="305.10" cy="389.30" r="13.6"/>
<circle cx="94.75" cy="393.10" r="13.6"/>
<circle cx="305.10" cy="434.80" r="13.6"/>
<circle cx="95.90" cy="466.70" r="13.6"/>
<circle cx="305.10" cy="468.10" r="13.6"/>
<circle cx="305.10" cy="496.50" r="13.6"/>
<circle cx="96.55" cy="532.55" r="13.6"/>
<circle cx="305.10" cy="530.75" r="13.6"/>
<circle cx="96.55" cy="615.80" r="13.6"/>
<circle cx="305.10" cy="598.70" r="13.6"/>
<circle cx="304.50" cy="650.70" r="13.6"/>
<circle cx="96.50" cy="665.50" r="13.6"/>
<circle cx="96.50" cy="698.10" r="13.6"/>
<circle cx="304.40" cy="692.20" r="13.6"/>
<circle cx="96.50" cy="739.30" r="13.6"/>
<circle cx="304.40" cy="721.30" r="13.6"/>
<circle cx="456.50" cy="650.80" r="13.6"/>
<circle cx="456.50" cy="688.00" r="13.6"/>
<circle cx="458.90" cy="730.60" r="13.6"/>
<circle cx="304.40" cy="750.80" r="13.6"/>
<circle cx="96.50" cy="786.30" r="13.6"/>
<circle cx="456.50" cy="787.70" r="13.6"/>
<circle cx="170.80" cy="831.00" r="13.6"/>
<circle cx="225.00" cy="829.20" r="13.6"/>
<circle cx="332.30" cy="827.50" r="13.6"/>
<circle cx="375.20" cy="827.30" r="13.6"/>
<circle cx="419.90" cy="827.30" r="13.6"/>
<circle cx="903.25" cy="58.00" r="16.7"/>
<circle cx="832.50" cy="82.50" r="16.7"/>
<circle cx="981.75" cy="84.50" r="16.7"/>
<circle cx="806.75" cy="110.50" r="16.7"/>
<circle cx="1017.00" cy="135.00" r="16.7"/>
<circle cx="793.25" cy="144.50" r="16.7"/>
<circle cx="789.50" cy="187.00" r="16.7"/>
<circle cx="1015.50" cy="216.00" r="16.7"/>
<circle cx="801.25" cy="225.00" r="16.7"/>
<circle cx="827.50" cy="259.50" r="16.7"/>
<circle cx="882.50" cy="288.00" r="16.7"/>
<circle cx="929.00" cy="288.00" r="16.7"/>
<circle cx="971.75" cy="270.50" r="16.7"/>
</g>
<g fill="none" stroke="#1e1e1e" stroke-linecap="round" stroke-linejoin="round">
<path transform="translate(273.20,11.75) scale(1.020,0.990)" d="M0.2,1.1 C0.9,0.4 2,0 3.1,0 C4.9,0 6.2,1.1 6.2,2.5 C6.2,3.9 4.9,4.8 3.1,4.8 M3.1,4.8 C5.1,4.8 6.5,5.9 6.5,7.4 C6.5,8.9 5,10 3.1,10 C1.8,10 0.7,9.6 0,8.8" stroke-width="0.945"/>
<path transform="translate(281.26,11.75) scale(1.020,0.990)" d="M0,3.2 C0,1.3 1.4,0 3.2,0 C5,0 6.4,1.3 6.4,3.2 L6.4,6.8 C6.4,8.7 5,10 3.2,10 C1.4,10 0,8.7 0,6.8 Z" stroke-width="0.945"/>
<path transform="translate(289.31,11.75) scale(1.020,0.990)" d="M0.5,2.2 L2.4,0 L2.4,10 M0.3,10 L4.5,10" stroke-width="0.945"/>
<path transform="translate(311.43,35.25) scale(1.020,0.990)" d="M0.2,1.1 C0.9,0.4 2,0 3.1,0 C4.9,0 6.2,1.1 6.2,2.5 C6.2,3.9 4.9,4.8 3.1,4.8 M3.1,4.8 C5.1,4.8 6.5,5.9 6.5,7.4 C6.5,8.9 5,10 3.1,10 C1.8,10 0.7,9.6 0,8.8" stroke-width="0.945"/>
<path transform="translate(319.49,35.25) scale(1.020,0.990)" d="M5.7,0.8 C5.1,0.3 4.2,0 3.2,0 C1.3,0 0,1.8 0,4.8 L0,6.8 C0,8.7 1.4,10 3.2,10 C5,10 6.4,8.7 6.4,6.8 C6.4,5 5,3.7 3.2,3.7 C1.4,3.7 0,5 0,6.8" stroke-width="0.945"/>
<path transform="translate(327.54,35.25) scale(1.020,0.990)" d="M0,3.2 C0,1.3 1.4,0 3.2,0 C5,0 6.4,1.3 6.4,3.2 L6.4,6.8 C6.4,8.7 5,10 3.2,10 C1.4,10 0,8.7 0,6.8 Z" stroke-width="0.945"/>
<path transform="translate(344.58,55.50) scale(1.020,0.990)" d="M5,10 L5,0 L0,7.1 L6.6,7.1" stroke-width="0.945"/>
<path transform="translate(352.84,55.50) scale(1.020,0.990)" d="M6.1,0 L0.8,0 L0.4,4.3 C1.1,3.8 2.1,3.6 3.2,3.6 C5.1,3.6 6.5,4.9 6.5,6.8 C6.5,8.7 5.1,10 3.2,10 C1.8,10 0.7,9.5 0,8.7" stroke-width="0.945"/>
<path transform="translate(360.90,55.50) scale(1.020,0.990)" d="M0,3.2 C0,1.3 1.4,0 3.2,0 C5,0 6.4,1.3 6.4,3.2 L6.4,6.8 C6.4,8.7 5,10 3.2,10 C1.4,10 0,8.7 0,6.8 Z" stroke-width="0.945"/>
<path transform="translate(399.97,90.50) scale(1.020,0.990)" d="M5,10 L5,0 L0,7.1 L6.6,7.1" stroke-width="0.945"/>
<path transform="translate(408.24,90.50) scale(1.020,0.990)" d="M6.1,0 L0.8,0 L0.4,4.3 C1.1,3.8 2.1,3.6 3.2,3.6 C5.1,3.6 6.5,4.9 6.5,6.8 C6.5,8.7 5.1,10 3.2,10 C1.8,10 0.7,9.5 0,8.7" stroke-width="0.945"/>
<path transform="translate(416.29,90.50) scale(1.020,0.990)" d="M5,10 L5,0 L0,7.1 L6.6,7.1" stroke-width="0.945"/>
<path transform="translate(450.33,120.25) scale(1.020,0.990)" d="M5,10 L5,0 L0,7.1 L6.6,7.1" stroke-width="0.945"/>
<path transform="translate(458.59,120.25) scale(1.020,0.990)" d="M6.1,0 L0.8,0 L0.4,4.3 C1.1,3.8 2.1,3.6 3.2,3.6 C5.1,3.6 6.5,4.9 6.5,6.8 C6.5,8.7 5.1,10 3.2,10 C1.8,10 0.7,9.5 0,8.7" stroke-width="0.945"/>
<path transform="translate(466.65,120.25) scale(1.020,0.990)" d="M5.7,0.8 C5.1,0.3 4.2,0 3.2,0 C1.3,0 0,1.8 0,4.8 L0,6.8 C0,8.7 1.4,10 3.2,10 C5,10 6.4,8.7 6.4,6.8 C6.4,5 5,3.7 3.2,3.7 C1.4,3.7 0,5 0,6.8" stroke-width="0.945"/>
<path transform="translate(505.33,153.50) scale(1.020,0.990)" d="M5,10 L5,0 L0,7.1 L6.6,7.1" stroke-width="0.945"/>
<path transform="translate(513.59,153.50) scale(1.020,0.990)" d="M6.1,0 L0.8,0 L0.4,4.3 C1.1,3.8 2.1,3.6 3.2,3.6 C5.1,3.6 6.5,4.9 6.5,6.8 C6.5,8.7 5.1,10 3.2,10 C1.8,10 0.7,9.5 0,8.7" stroke-width="0.945"/>
<path transform="translate(521.65,153.50) scale(1.020,0.990)" d="M0.7,9.2 C1.3,9.7 2.2,10 3.2,10 C5.1,10 6.4,8.2 6.4,5.2 L6.4,3.2 C6.4,1.3 5,0 3.2,0 C1.4,0 0,1.3 0,3.2 C0,5 1.4,6.3 3.2,6.3 C5,6.3 6.4,5 6.4,3.2" stroke-width="0.945"/>
<path transform="translate(553.58,183.50) scale(1.020,0.990)" d="M5,10 L5,0 L0,7.1 L6.6,7.1" stroke-width="0.945"/>
<path transform="translate(561.84,183.50) scale(1.020,0.990)" d="M5.7,0.8 C5.1,0.3 4.2,0 3.2,0 C1.3,0 0,1.8 0,4.8 L0,6.8 C0,8.7 1.4,10 3.2,10 C5,10 6.4,8.7 6.4,6.8 C6.4,5 5,3.7 3.2,3.7 C1.4,3.7 0,5 0,6.8" stroke-width="0.945"/>
<path transform="translate(569.90,183.50) scale(1.020,0.990)" d="M0.1,3 C0.1,1.2 1.5,0 3.2,0 C5,0 6.3,1.2 6.3,2.9 C6.3,4.5 5.1,5.5 3.6,6.5 L0.1,10 L6.5,10" stroke-width="0.945"/>
<path transform="translate(594.83,208.50) scale(1.020,0.990)" d="M5,10 L5,0 L0,7.1 L6.6,7.1" stroke-width="0.945"/>
<path transform="translate(603.09,208.50) scale(1.020,0.990)" d="M5.7,0.8 C5.1,0.3 4.2,0 3.2,0 C1.3,0 0,1.8 0,4.8 L0,6.8 C0,8.7 1.4,10 3.2,10 C5,10 6.4,8.7 6.4,6.8 C6.4,5 5,3.7 3.2,3.7 C1.4,3.7 0,5 0,6.8" stroke-width="0.945"/>
<path transform="translate(611.15,208.50) scale(1.020,0.990)" d="M3.2,4.7 C1.4,4.7 0.3,3.7 0.3,2.35 C0.3,1 1.4,0 3.2,0 C5,0 6.1,1 6.1,2.35 C6.1,3.7 5,4.7 3.2,4.7 C1.3,4.7 0,5.8 0,7.35 C0,8.9 1.4,10 3.2,10 C5,10 6.4,8.9 6.4,7.35 C6.4,5.8 5.1,4.7 3.2,4.7 Z" stroke-width="0.945"/>
<path transform="translate(631.58,231.00) scale(1.020,0.990)" d="M5,10 L5,0 L0,7.1 L6.6,7.1" stroke-width="0.945"/>
<path transform="translate(639.84,231.00) scale(1.020,0.990)" d="M5.7,0.8 C5.1,0.3 4.2,0 3.2,0 C1.3,0 0,1.8 0,4.8 L0,6.8 C0,8.7 1.4,10 3.2,10 C5,10 6.4,8.7 6.4,6.8 C6.4,5 5,3.7 3.2,3.7 C1.4,3.7 0,5 0,6.8" stroke-width="0.945"/>
<path transform="translate(647.90,231.00) scale(1.020,0.990)" d="M0,0 L6.4,0 L2.2,10" stroke-width="0.945"/>
<path transform="translate(670.60,254.25) scale(1.020,0.990)" d="M5,10 L5,0 L0,7.1 L6.6,7.1" stroke-width="0.945"/>
<path transform="translate(678.86,254.25) scale(1.020,0.990)" d="M0,0 L6.4,0 L2.2,10" stroke-width="0.945"/>
<path transform="translate(686.92,254.25) scale(1.020,0.990)" d="M0.5,2.2 L2.4,0 L2.4,10 M0.3,10 L4.5,10" stroke-width="0.945"/>
<path transform="translate(696.72,271.00) scale(1.020,0.990)" d="M5,10 L5,0 L0,7.1 L6.6,7.1" stroke-width="0.945"/>
<path transform="translate(704.99,271.00) scale(1.020,0.990)" d="M0,0 L6.4,0 L2.2,10" stroke-width="0.945"/>
<path transform="translate(713.04,271.00) scale(1.020,0.990)" d="M5,10 L5,0 L0,7.1 L6.6,7.1" stroke-width="0.945"/>
<path transform="translate(744.33,300.25) scale(1.020,0.990)" d="M5,10 L5,0 L0,7.1 L6.6,7.1" stroke-width="0.945"/>
<path transform="translate(752.59,300.25) scale(1.020,0.990)" d="M3.2,4.7 C1.4,4.7 0.3,3.7 0.3,2.35 C0.3,1 1.4,0 3.2,0 C5,0 6.1,1 6.1,2.35 C6.1,3.7 5,4.7 3.2,4.7 C1.3,4.7 0,5.8 0,7.35 C0,8.9 1.4,10 3.2,10 C5,10 6.4,8.9 6.4,7.35 C6.4,5.8 5.1,4.7 3.2,4.7 Z" stroke-width="0.945"/>
<path transform="translate(760.65,300.25) scale(1.020,0.990)" d="M3.2,4.7 C1.4,4.7 0.3,3.7 0.3,2.35 C0.3,1 1.4,0 3.2,0 C5,0 6.1,1 6.1,2.35 C6.1,3.7 5,4.7 3.2,4.7 C1.3,4.7 0,5.8 0,7.35 C0,8.9 1.4,10 3.2,10 C5,10 6.4,8.9 6.4,7.35 C6.4,5.8 5.1,4.7 3.2,4.7 Z" stroke-width="0.945"/>
<path transform="translate(141.70,139.75) scale(1.020,0.990)" d="M0.2,1.1 C0.9,0.4 2,0 3.1,0 C4.9,0 6.2,1.1 6.2,2.5 C6.2,3.9 4.9,4.8 3.1,4.8 M3.1,4.8 C5.1,4.8 6.5,5.9 6.5,7.4 C6.5,8.9 5,10 3.1,10 C1.8,10 0.7,9.6 0,8.8" stroke-width="0.945"/>
<path transform="translate(149.76,139.75) scale(1.020,0.990)" d="M0.5,2.2 L2.4,0 L2.4,10 M0.3,10 L4.5,10" stroke-width="0.945"/>
<path transform="translate(155.77,139.75) scale(1.020,0.990)" d="M5.7,0.8 C5.1,0.3 4.2,0 3.2,0 C1.3,0 0,1.8 0,4.8 L0,6.8 C0,8.7 1.4,10 3.2,10 C5,10 6.4,8.7 6.4,6.8 C6.4,5 5,3.7 3.2,3.7 C1.4,3.7 0,5 0,6.8" stroke-width="0.945"/>
<path transform="translate(194.33,173.00) scale(1.020,0.990)" d="M5,10 L5,0 L0,7.1 L6.6,7.1" stroke-width="0.945"/>
<path transform="translate(202.59,173.00) scale(1.020,0.990)" d="M6.1,0 L0.8,0 L0.4,4.3 C1.1,3.8 2.1,3.6 3.2,3.6 C5.1,3.6 6.5,4.9 6.5,6.8 C6.5,8.7 5.1,10 3.2,10 C1.8,10 0.7,9.5 0,8.7" stroke-width="0.945"/>
<path transform="translate(210.65,173.00) scale(1.020,0.990)" d="M0.2,1.1 C0.9,0.4 2,0 3.1,0 C4.9,0 6.2,1.1 6.2,2.5 C6.2,3.9 4.9,4.8 3.1,4.8 M3.1,4.8 C5.1,4.8 6.5,5.9 6.5,7.4 C6.5,8.9 5,10 3.1,10 C1.8,10 0.7,9.6 0,8.8" stroke-width="0.945"/>
<path transform="translate(231.18,194.75) scale(1.020,0.990)" d="M6.1,0 L0.8,0 L0.4,4.3 C1.1,3.8 2.1,3.6 3.2,3.6 C5.1,3.6 6.5,4.9 6.5,6.8 C6.5,8.7 5.1,10 3.2,10 C1.8,10 0.7,9.5 0,8.7" stroke-width="0.945"/>
<path transform="translate(239.24,194.75) scale(1.020,0.990)" d="M3.2,4.7 C1.4,4.7 0.3,3.7 0.3,2.35 C0.3,1 1.4,0 3.2,0 C5,0 6.1,1 6.1,2.35 C6.1,3.7 5,4.7 3.2,4.7 C1.3,4.7 0,5.8 0,7.35 C0,8.9 1.4,10 3.2,10 C5,10 6.4,8.9 6.4,7.35 C6.4,5.8 5.1,4.7 3.2,4.7 Z" stroke-width="0.945"/>
<path transform="translate(247.29,194.75) scale(1.020,0.990)" d="M3.2,4.7 C1.4,4.7 0.3,3.7 0.3,2.35 C0.3,1 1.4,0 3.2,0 C5,0 6.1,1 6.1,2.35 C6.1,3.7 5,4.7 3.2,4.7 C1.3,4.7 0,5.8 0,7.35 C0,8.9 1.4,10 3.2,10 C5,10 6.4,8.9 6.4,7.35 C6.4,5.8 5.1,4.7 3.2,4.7 Z" stroke-width="0.945"/>
<path transform="translate(325.10,251.65) scale(1.020,0.990)" d="M6.1,0 L0.8,0 L0.4,4.3 C1.1,3.8 2.1,3.6 3.2,3.6 C5.1,3.6 6.5,4.9 6.5,6.8 C6.5,8.7 5.1,10 3.2,10 C1.8,10 0.7,9.5 0,8.7" stroke-width="0.945"/>
<path transform="translate(333.16,251.65) scale(1.020,0.990)" d="M0.5,2.2 L2.4,0 L2.4,10 M0.3,10 L4.5,10" stroke-width="0.945"/>
<path transform="translate(339.17,251.65) scale(1.020,0.990)" d="M6.1,0 L0.8,0 L0.4,4.3 C1.1,3.8 2.1,3.6 3.2,3.6 C5.1,3.6 6.5,4.9 6.5,6.8 C6.5,8.7 5.1,10 3.2,10 C1.8,10 0.7,9.5 0,8.7" stroke-width="0.945"/>
<path transform="translate(405.95,302.75) scale(1.020,0.990)" d="M6.1,0 L0.8,0 L0.4,4.3 C1.1,3.8 2.1,3.6 3.2,3.6 C5.1,3.6 6.5,4.9 6.5,6.8 C6.5,8.7 5.1,10 3.2,10 C1.8,10 0.7,9.5 0,8.7" stroke-width="0.945"/>
<path transform="translate(414.01,302.75) scale(1.020,0.990)" d="M0.5,2.2 L2.4,0 L2.4,10 M0.3,10 L4.5,10" stroke-width="0.945"/>
<path transform="translate(420.02,302.75) scale(1.020,0.990)" d="M0.1,3 C0.1,1.2 1.5,0 3.2,0 C5,0 6.3,1.2 6.3,2.9 C6.3,4.5 5.1,5.5 3.6,6.5 L0.1,10 L6.5,10" stroke-width="0.945"/>
<path transform="translate(437.72,320.25) scale(1.020,0.990)" d="M6.1,0 L0.8,0 L0.4,4.3 C1.1,3.8 2.1,3.6 3.2,3.6 C5.1,3.6 6.5,4.9 6.5,6.8 C6.5,8.7 5.1,10 3.2,10 C1.8,10 0.7,9.5 0,8.7" stroke-width="0.945"/>
<path transform="translate(445.78,320.25) scale(1.020,0.990)" d="M0.5,2.2 L2.4,0 L2.4,10 M0.3,10 L4.5,10" stroke-width="0.945"/>
<path transform="translate(451.79,320.25) scale(1.020,0.990)" d="M0.5,2.2 L2.4,0 L2.4,10 M0.3,10 L4.5,10" stroke-width="0.945"/>
<path transform="translate(461.45,335.25) scale(1.020,0.990)" d="M6.1,0 L0.8,0 L0.4,4.3 C1.1,3.8 2.1,3.6 3.2,3.6 C5.1,3.6 6.5,4.9 6.5,6.8 C6.5,8.7 5.1,10 3.2,10 C1.8,10 0.7,9.5 0,8.7" stroke-width="0.945"/>
<path transform="translate(469.51,335.25) scale(1.020,0.990)" d="M0.5,2.2 L2.4,0 L2.4,10 M0.3,10 L4.5,10" stroke-width="0.945"/>
<path transform="translate(475.52,335.25) scale(1.020,0.990)" d="M0,3.2 C0,1.3 1.4,0 3.2,0 C5,0 6.4,1.3 6.4,3.2 L6.4,6.8 C6.4,8.7 5,10 3.2,10 C1.4,10 0,8.7 0,6.8 Z" stroke-width="0.945"/>
<path transform="translate(542.90,383.65) scale(1.020,0.990)" d="M5.7,0.8 C5.1,0.3 4.2,0 3.2,0 C1.3,0 0,1.8 0,4.8 L0,6.8 C0,8.7 1.4,10 3.2,10 C5,10 6.4,8.7 6.4,6.8 C6.4,5 5,3.7 3.2,3.7 C1.4,3.7 0,5 0,6.8" stroke-width="0.945"/>
<path transform="translate(550.96,383.65) scale(1.020,0.990)" d="M0,3.2 C0,1.3 1.4,0 3.2,0 C5,0 6.4,1.3 6.4,3.2 L6.4,6.8 C6.4,8.7 5,10 3.2,10 C1.4,10 0,8.7 0,6.8 Z" stroke-width="0.945"/>
<path transform="translate(559.01,383.65) scale(1.020,0.990)" d="M0.5,2.2 L2.4,0 L2.4,10 M0.3,10 L4.5,10" stroke-width="0.945"/>
<path transform="translate(569.08,400.95) scale(1.020,0.990)" d="M6.1,0 L0.8,0 L0.4,4.3 C1.1,3.8 2.1,3.6 3.2,3.6 C5.1,3.6 6.5,4.9 6.5,6.8 C6.5,8.7 5.1,10 3.2,10 C1.8,10 0.7,9.5 0,8.7" stroke-width="0.945"/>
<path transform="translate(577.14,400.95) scale(1.020,0.990)" d="M0,3.2 C0,1.3 1.4,0 3.2,0 C5,0 6.4,1.3 6.4,3.2 L6.4,6.8 C6.4,8.7 5,10 3.2,10 C1.4,10 0,8.7 0,6.8 Z" stroke-width="0.945"/>
<path transform="translate(585.19,400.95) scale(1.020,0.990)" d="M0,3.2 C0,1.3 1.4,0 3.2,0 C5,0 6.4,1.3 6.4,3.2 L6.4,6.8 C6.4,8.7 5,10 3.2,10 C1.4,10 0,8.7 0,6.8 Z" stroke-width="0.945"/>
<path transform="translate(847.70,361.75) scale(1.020,0.990)" d="M6.1,0 L0.8,0 L0.4,4.3 C1.1,3.8 2.1,3.6 3.2,3.6 C5.1,3.6 6.5,4.9 6.5,6.8 C6.5,8.7 5.1,10 3.2,10 C1.8,10 0.7,9.5 0,8.7" stroke-width="0.945"/>
<path transform="translate(855.76,361.75) scale(1.020,0.990)" d="M0.2,1.1 C0.9,0.4 2,0 3.1,0 C4.9,0 6.2,1.1 6.2,2.5 C6.2,3.9 4.9,4.8 3.1,4.8 M3.1,4.8 C5.1,4.8 6.5,5.9 6.5,7.4 C6.5,8.9 5,10 3.1,10 C1.8,10 0.7,9.6 0,8.8" stroke-width="0.945"/>
<path transform="translate(863.81,361.75) scale(1.020,0.990)" d="M0.5,2.2 L2.4,0 L2.4,10 M0.3,10 L4.5,10" stroke-width="0.945"/>
<path transform="translate(908.18,400.25) scale(1.020,0.990)" d="M5,10 L5,0 L0,7.1 L6.6,7.1" stroke-width="0.945"/>
<path transform="translate(916.44,400.25) scale(1.020,0.990)" d="M3.2,4.7 C1.4,4.7 0.3,3.7 0.3,2.35 C0.3,1 1.4,0 3.2,0 C5,0 6.1,1 6.1,2.35 C6.1,3.7 5,4.7 3.2,4.7 C1.3,4.7 0,5.8 0,7.35 C0,8.9 1.4,10 3.2,10 C5,10 6.4,8.9 6.4,7.35 C6.4,5.8 5.1,4.7 3.2,4.7 Z" stroke-width="0.945"/>
<path transform="translate(924.50,400.25) scale(1.020,0.990)" d="M0.7,9.2 C1.3,9.7 2.2,10 3.2,10 C5.1,10 6.4,8.2 6.4,5.2 L6.4,3.2 C6.4,1.3 5,0 3.2,0 C1.4,0 0,1.3 0,3.2 C0,5 1.4,6.3 3.2,6.3 C5,6.3 6.4,5 6.4,3.2" stroke-width="0.945"/>
<path transform="translate(940.18,419.55) scale(1.020,0.990)" d="M5,10 L5,0 L0,7.1 L6.6,7.1" stroke-width="0.945"/>
<path transform="translate(948.44,419.55) scale(1.020,0.990)" d="M0.7,9.2 C1.3,9.7 2.2,10 3.2,10 C5.1,10 6.4,8.2 6.4,5.2 L6.4,3.2 C6.4,1.3 5,0 3.2,0 C1.4,0 0,1.3 0,3.2 C0,5 1.4,6.3 3.2,6.3 C5,6.3 6.4,5 6.4,3.2" stroke-width="0.945"/>
<path transform="translate(956.50,419.55) scale(1.020,0.990)" d="M0,3.2 C0,1.3 1.4,0 3.2,0 C5,0 6.4,1.3 6.4,3.2 L6.4,6.8 C6.4,8.7 5,10 3.2,10 C1.4,10 0,8.7 0,6.8 Z" stroke-width="0.945"/>
<path transform="translate(983.58,445.55) scale(1.020,0.990)" d="M5,10 L5,0 L0,7.1 L6.6,7.1" stroke-width="0.945"/>
<path transform="translate(991.84,445.55) scale(1.020,0.990)" d="M0.7,9.2 C1.3,9.7 2.2,10 3.2,10 C5.1,10 6.4,8.2 6.4,5.2 L6.4,3.2 C6.4,1.3 5,0 3.2,0 C1.4,0 0,1.3 0,3.2 C0,5 1.4,6.3 3.2,6.3 C5,6.3 6.4,5 6.4,3.2" stroke-width="0.945"/>
<path transform="translate(999.90,445.55) scale(1.020,0.990)" d="M3.2,4.7 C1.4,4.7 0.3,3.7 0.3,2.35 C0.3,1 1.4,0 3.2,0 C5,0 6.1,1 6.1,2.35 C6.1,3.7 5,4.7 3.2,4.7 C1.3,4.7 0,5.8 0,7.35 C0,8.9 1.4,10 3.2,10 C5,10 6.4,8.9 6.4,7.35 C6.4,5.8 5.1,4.7 3.2,4.7 Z" stroke-width="0.945"/>
<path transform="translate(1028.50,472.55) scale(1.020,0.990)" d="M5,10 L5,0 L0,7.1 L6.6,7.1" stroke-width="0.945"/>
<path transform="translate(1036.76,472.55) scale(1.020,0.990)" d="M0.7,9.2 C1.3,9.7 2.2,10 3.2,10 C5.1,10 6.4,8.2 6.4,5.2 L6.4,3.2 C6.4,1.3 5,0 3.2,0 C1.4,0 0,1.3 0,3.2 C0,5 1.4,6.3 3.2,6.3 C5,6.3 6.4,5 6.4,3.2" stroke-width="0.945"/>
<path transform="translate(1044.82,472.55) scale(1.020,0.990)" d="M0.5,2.2 L2.4,0 L2.4,10 M0.3,10 L4.5,10" stroke-width="0.945"/>
<path transform="translate(1093.28,512.75) scale(1.020,0.990)" d="M6.1,0 L0.8,0 L0.4,4.3 C1.1,3.8 2.1,3.6 3.2,3.6 C5.1,3.6 6.5,4.9 6.5,6.8 C6.5,8.7 5.1,10 3.2,10 C1.8,10 0.7,9.5 0,8.7" stroke-width="0.945"/>
<path transform="translate(1101.34,512.75) scale(1.020,0.990)" d="M0,3.2 C0,1.3 1.4,0 3.2,0 C5,0 6.4,1.3 6.4,3.2 L6.4,6.8 C6.4,8.7 5,10 3.2,10 C1.4,10 0,8.7 0,6.8 Z" stroke-width="0.945"/>
<path transform="translate(1109.39,512.75) scale(1.020,0.990)" d="M6.1,0 L0.8,0 L0.4,4.3 C1.1,3.8 2.1,3.6 3.2,3.6 C5.1,3.6 6.5,4.9 6.5,6.8 C6.5,8.7 5.1,10 3.2,10 C1.8,10 0.7,9.5 0,8.7" stroke-width="0.945"/>
<path transform="translate(839.08,566.05) scale(1.020,0.990)" d="M6.1,0 L0.8,0 L0.4,4.3 C1.1,3.8 2.1,3.6 3.2,3.6 C5.1,3.6 6.5,4.9 6.5,6.8 C6.5,8.7 5.1,10 3.2,10 C1.8,10 0.7,9.5 0,8.7" stroke-width="0.945"/>
<path transform="translate(847.14,566.05) scale(1.020,0.990)" d="M0,3.2 C0,1.3 1.4,0 3.2,0 C5,0 6.4,1.3 6.4,3.2 L6.4,6.8 C6.4,8.7 5,10 3.2,10 C1.4,10 0,8.7 0,6.8 Z" stroke-width="0.945"/>
<path transform="translate(855.19,566.05) scale(1.020,0.990)" d="M3.2,4.7 C1.4,4.7 0.3,3.7 0.3,2.35 C0.3,1 1.4,0 3.2,0 C5,0 6.1,1 6.1,2.35 C6.1,3.7 5,4.7 3.2,4.7 C1.3,4.7 0,5.8 0,7.35 C0,8.9 1.4,10 3.2,10 C5,10 6.4,8.9 6.4,7.35 C6.4,5.8 5.1,4.7 3.2,4.7 Z" stroke-width="0.945"/>
<path transform="translate(887.58,596.15) scale(1.020,0.990)" d="M0,0 L6.4,0 L2.2,10" stroke-width="0.945"/>
<path transform="translate(895.64,596.15) scale(1.020,0.990)" d="M0,0 L6.4,0 L2.2,10" stroke-width="0.945"/>
<path transform="translate(903.69,596.15) scale(1.020,0.990)" d="M0.7,9.2 C1.3,9.7 2.2,10 3.2,10 C5.1,10 6.4,8.2 6.4,5.2 L6.4,3.2 C6.4,1.3 5,0 3.2,0 C1.4,0 0,1.3 0,3.2 C0,5 1.4,6.3 3.2,6.3 C5,6.3 6.4,5 6.4,3.2" stroke-width="0.945"/>
<path transform="translate(921.58,616.65) scale(1.020,0.990)" d="M6.1,0 L0.8,0 L0.4,4.3 C1.1,3.8 2.1,3.6 3.2,3.6 C5.1,3.6 6.5,4.9 6.5,6.8 C6.5,8.7 5.1,10 3.2,10 C1.8,10 0.7,9.5 0,8.7" stroke-width="0.945"/>
<path transform="translate(929.64,616.65) scale(1.020,0.990)" d="M0,3.2 C0,1.3 1.4,0 3.2,0 C5,0 6.4,1.3 6.4,3.2 L6.4,6.8 C6.4,8.7 5,10 3.2,10 C1.4,10 0,8.7 0,6.8 Z" stroke-width="0.945"/>
<path transform="translate(937.69,616.65) scale(1.020,0.990)" d="M5.7,0.8 C5.1,0.3 4.2,0 3.2,0 C1.3,0 0,1.8 0,4.8 L0,6.8 C0,8.7 1.4,10 3.2,10 C5,10 6.4,8.7 6.4,6.8 C6.4,5 5,3.7 3.2,3.7 C1.4,3.7 0,5 0,6.8" stroke-width="0.945"/>
<path transform="translate(479.18,405.15) scale(1.020,0.990)" d="M0,0 L6.4,0 L2.2,10" stroke-width="0.945"/>
<path transform="translate(487.24,405.15) scale(1.020,0.990)" d="M0,0 L6.4,0 L2.2,10" stroke-width="0.945"/>
<path transform="translate(495.29,405.15) scale(1.020,0.990)" d="M0.2,1.1 C0.9,0.4 2,0 3.1,0 C4.9,0 6.2,1.1 6.2,2.5 C6.2,3.9 4.9,4.8 3.1,4.8 M3.1,4.8 C5.1,4.8 6.5,5.9 6.5,7.4 C6.5,8.9 5,10 3.1,10 C1.8,10 0.7,9.6 0,8.8" stroke-width="0.945"/>
<path transform="translate(517.98,431.55) scale(1.020,0.990)" d="M0,0 L6.4,0 L2.2,10" stroke-width="0.945"/>
<path transform="translate(526.04,431.55) scale(1.020,0.990)" d="M0,0 L6.4,0 L2.2,10" stroke-width="0.945"/>
<path transform="translate(534.09,431.55) scale(1.020,0.990)" d="M0,3.2 C0,1.3 1.4,0 3.2,0 C5,0 6.4,1.3 6.4,3.2 L6.4,6.8 C6.4,8.7 5,10 3.2,10 C1.4,10 0,8.7 0,6.8 Z" stroke-width="0.945"/>
<path transform="translate(572.18,466.95) scale(1.020,0.990)" d="M0,0 L6.4,0 L2.2,10" stroke-width="0.945"/>
<path transform="translate(580.24,466.95) scale(1.020,0.990)" d="M0,3.2 C0,1.3 1.4,0 3.2,0 C5,0 6.4,1.3 6.4,3.2 L6.4,6.8 C6.4,8.7 5,10 3.2,10 C1.4,10 0,8.7 0,6.8 Z" stroke-width="0.945"/>
<path transform="translate(588.29,466.95) scale(1.020,0.990)" d="M6.1,0 L0.8,0 L0.4,4.3 C1.1,3.8 2.1,3.6 3.2,3.6 C5.1,3.6 6.5,4.9 6.5,6.8 C6.5,8.7 5.1,10 3.2,10 C1.8,10 0.7,9.5 0,8.7" stroke-width="0.945"/>
<path transform="translate(387.88,533.55) scale(1.020,0.990)" d="M0,0 L6.4,0 L2.2,10" stroke-width="0.945"/>
<path transform="translate(395.93,533.55) scale(1.020,0.990)" d="M0,0 L6.4,0 L2.2,10" stroke-width="0.945"/>
<path transform="translate(403.99,533.55) scale(1.020,0.990)" d="M5,10 L5,0 L0,7.1 L6.6,7.1" stroke-width="0.945"/>
<path transform="translate(416.28,551.95) scale(1.020,0.990)" d="M0,0 L6.4,0 L2.2,10" stroke-width="0.945"/>
<path transform="translate(424.34,551.95) scale(1.020,0.990)" d="M0,0 L6.4,0 L2.2,10" stroke-width="0.945"/>
<path transform="translate(432.39,551.95) scale(1.020,0.990)" d="M0.1,3 C0.1,1.2 1.5,0 3.2,0 C5,0 6.3,1.2 6.3,2.9 C6.3,4.5 5.1,5.5 3.6,6.5 L0.1,10 L6.5,10" stroke-width="0.945"/>
<path transform="translate(448.88,573.15) scale(1.020,0.990)" d="M0,0 L6.4,0 L2.2,10" stroke-width="0.945"/>
<path transform="translate(456.94,573.15) scale(1.020,0.990)" d="M0,0 L6.4,0 L2.2,10" stroke-width="0.945"/>
<path transform="translate(464.99,573.15) scale(1.020,0.990)" d="M0.2,1.1 C0.9,0.4 2,0 3.1,0 C4.9,0 6.2,1.1 6.2,2.5 C6.2,3.9 4.9,4.8 3.1,4.8 M3.1,4.8 C5.1,4.8 6.5,5.9 6.5,7.4 C6.5,8.9 5,10 3.1,10 C1.8,10 0.7,9.6 0,8.8" stroke-width="0.945"/>
<path transform="translate(483.48,596.75) scale(1.020,0.990)" d="M0,0 L6.4,0 L2.2,10" stroke-width="0.945"/>
<path transform="translate(491.54,596.75) scale(1.020,0.990)" d="M5.7,0.8 C5.1,0.3 4.2,0 3.2,0 C1.3,0 0,1.8 0,4.8 L0,6.8 C0,8.7 1.4,10 3.2,10 C5,10 6.4,8.7 6.4,6.8 C6.4,5 5,3.7 3.2,3.7 C1.4,3.7 0,5 0,6.8" stroke-width="0.945"/>
<path transform="translate(499.59,596.75) scale(1.020,0.990)" d="M0,3.2 C0,1.3 1.4,0 3.2,0 C5,0 6.4,1.3 6.4,3.2 L6.4,6.8 C6.4,8.7 5,10 3.2,10 C1.4,10 0,8.7 0,6.8 Z" stroke-width="0.945"/>
<path transform="translate(446.10,607.75) scale(1.020,0.990)" d="M0.5,2.2 L2.4,0 L2.4,10 M0.3,10 L4.5,10" stroke-width="0.945"/>
<path transform="translate(452.11,607.75) scale(1.020,0.990)" d="M0.1,3 C0.1,1.2 1.5,0 3.2,0 C5,0 6.3,1.2 6.3,2.9 C6.3,4.5 5.1,5.5 3.6,6.5 L0.1,10 L6.5,10" stroke-width="0.945"/>
<path transform="translate(460.17,607.75) scale(1.020,0.990)" d="M5,10 L5,0 L0,7.1 L6.6,7.1" stroke-width="0.945"/>
<path transform="translate(527.18,625.50) scale(1.020,0.990)" d="M0,0 L6.4,0 L2.2,10" stroke-width="0.945"/>
<path transform="translate(535.24,625.50) scale(1.020,0.990)" d="M0,0 L6.4,0 L2.2,10" stroke-width="0.945"/>
<path transform="translate(543.29,625.50) scale(1.020,0.990)" d="M0,0 L6.4,0 L2.2,10" stroke-width="0.945"/>
<path transform="translate(568.68,652.35) scale(1.020,0.990)" d="M0,0 L6.4,0 L2.2,10" stroke-width="0.945"/>
<path transform="translate(576.74,652.35) scale(1.020,0.990)" d="M0,0 L6.4,0 L2.2,10" stroke-width="0.945"/>
<path transform="translate(584.79,652.35) scale(1.020,0.990)" d="M3.2,4.7 C1.4,4.7 0.3,3.7 0.3,2.35 C0.3,1 1.4,0 3.2,0 C5,0 6.1,1 6.1,2.35 C6.1,3.7 5,4.7 3.2,4.7 C1.3,4.7 0,5.8 0,7.35 C0,8.9 1.4,10 3.2,10 C5,10 6.4,8.9 6.4,7.35 C6.4,5.8 5.1,4.7 3.2,4.7 Z" stroke-width="0.945"/>
<path transform="translate(728.58,570.85) scale(1.020,0.990)" d="M0,0 L6.4,0 L2.2,10" stroke-width="0.945"/>
<path transform="translate(736.64,570.85) scale(1.020,0.990)" d="M6.1,0 L0.8,0 L0.4,4.3 C1.1,3.8 2.1,3.6 3.2,3.6 C5.1,3.6 6.5,4.9 6.5,6.8 C6.5,8.7 5.1,10 3.2,10 C1.8,10 0.7,9.5 0,8.7" stroke-width="0.945"/>
<path transform="translate(744.69,570.85) scale(1.020,0.990)" d="M0.1,3 C0.1,1.2 1.5,0 3.2,0 C5,0 6.3,1.2 6.3,2.9 C6.3,4.5 5.1,5.5 3.6,6.5 L0.1,10 L6.5,10" stroke-width="0.945"/>
<path transform="translate(815.48,627.75) scale(1.020,0.990)" d="M0,0 L6.4,0 L2.2,10" stroke-width="0.945"/>
<path transform="translate(823.54,627.75) scale(1.020,0.990)" d="M0.7,9.2 C1.3,9.7 2.2,10 3.2,10 C5.1,10 6.4,8.2 6.4,5.2 L6.4,3.2 C6.4,1.3 5,0 3.2,0 C1.4,0 0,1.3 0,3.2 C0,5 1.4,6.3 3.2,6.3 C5,6.3 6.4,5 6.4,3.2" stroke-width="0.945"/>
<path transform="translate(831.59,627.75) scale(1.020,0.990)" d="M0,0 L6.4,0 L2.2,10" stroke-width="0.945"/>
<path transform="translate(296.84,342.85) scale(1.020,0.990)" d="M0.5,2.2 L2.4,0 L2.4,10 M0.3,10 L4.5,10" stroke-width="0.945"/>
<path transform="translate(302.86,342.85) scale(1.020,0.990)" d="M0.5,2.2 L2.4,0 L2.4,10 M0.3,10 L4.5,10" stroke-width="0.945"/>
<path transform="translate(308.87,342.85) scale(1.020,0.990)" d="M0.5,2.2 L2.4,0 L2.4,10 M0.3,10 L4.5,10" stroke-width="0.945"/>
<path transform="translate(295.82,384.05) scale(1.020,0.990)" d="M0.5,2.2 L2.4,0 L2.4,10 M0.3,10 L4.5,10" stroke-width="0.945"/>
<path transform="translate(301.84,384.05) scale(1.020,0.990)" d="M0.5,2.2 L2.4,0 L2.4,10 M0.3,10 L4.5,10" stroke-width="0.945"/>
<path transform="translate(307.85,384.05) scale(1.020,0.990)" d="M0,3.2 C0,1.3 1.4,0 3.2,0 C5,0 6.4,1.3 6.4,3.2 L6.4,6.8 C6.4,8.7 5,10 3.2,10 C1.4,10 0,8.7 0,6.8 Z" stroke-width="0.945"/>
<path transform="translate(85.47,387.85) scale(1.020,0.990)" d="M0.5,2.2 L2.4,0 L2.4,10 M0.3,10 L4.5,10" stroke-width="0.945"/>
<path transform="translate(91.49,387.85) scale(1.020,0.990)" d="M0.5,2.2 L2.4,0 L2.4,10 M0.3,10 L4.5,10" stroke-width="0.945"/>
<path transform="translate(97.50,387.85) scale(1.020,0.990)" d="M0.1,3 C0.1,1.2 1.5,0 3.2,0 C5,0 6.3,1.2 6.3,2.9 C6.3,4.5 5.1,5.5 3.6,6.5 L0.1,10 L6.5,10" stroke-width="0.945"/>
<path transform="translate(294.80,429.55) scale(1.020,0.990)" d="M0.5,2.2 L2.4,0 L2.4,10 M0.3,10 L4.5,10" stroke-width="0.945"/>
<path transform="translate(300.82,429.55) scale(1.020,0.990)" d="M0,3.2 C0,1.3 1.4,0 3.2,0 C5,0 6.4,1.3 6.4,3.2 L6.4,6.8 C6.4,8.7 5,10 3.2,10 C1.4,10 0,8.7 0,6.8 Z" stroke-width="0.945"/>
<path transform="translate(308.87,429.55) scale(1.020,0.990)" d="M0.7,9.2 C1.3,9.7 2.2,10 3.2,10 C5.1,10 6.4,8.2 6.4,5.2 L6.4,3.2 C6.4,1.3 5,0 3.2,0 C1.4,0 0,1.3 0,3.2 C0,5 1.4,6.3 3.2,6.3 C5,6.3 6.4,5 6.4,3.2" stroke-width="0.945"/>
<path transform="translate(86.62,461.45) scale(1.020,0.990)" d="M0.5,2.2 L2.4,0 L2.4,10 M0.3,10 L4.5,10" stroke-width="0.945"/>
<path transform="translate(92.64,461.45) scale(1.020,0.990)" d="M0,3.2 C0,1.3 1.4,0 3.2,0 C5,0 6.4,1.3 6.4,3.2 L6.4,6.8 C6.4,8.7 5,10 3.2,10 C1.4,10 0,8.7 0,6.8 Z" stroke-width="0.945"/>
<path transform="translate(100.69,461.45) scale(1.020,0.990)" d="M0.5,2.2 L2.4,0 L2.4,10 M0.3,10 L4.5,10" stroke-width="0.945"/>
<path transform="translate(294.80,462.85) scale(1.020,0.990)" d="M0.5,2.2 L2.4,0 L2.4,10 M0.3,10 L4.5,10" stroke-width="0.945"/>
<path transform="translate(300.82,462.85) scale(1.020,0.990)" d="M0,3.2 C0,1.3 1.4,0 3.2,0 C5,0 6.4,1.3 6.4,3.2 L6.4,6.8 C6.4,8.7 5,10 3.2,10 C1.4,10 0,8.7 0,6.8 Z" stroke-width="0.945"/>
<path transform="translate(308.87,462.85) scale(1.020,0.990)" d="M3.2,4.7 C1.4,4.7 0.3,3.7 0.3,2.35 C0.3,1 1.4,0 3.2,0 C5,0 6.1,1 6.1,2.35 C6.1,3.7 5,4.7 3.2,4.7 C1.3,4.7 0,5.8 0,7.35 C0,8.9 1.4,10 3.2,10 C5,10 6.4,8.9 6.4,7.35 C6.4,5.8 5.1,4.7 3.2,4.7 Z" stroke-width="0.945"/>
<path transform="translate(294.80,491.25) scale(1.020,0.990)" d="M0.5,2.2 L2.4,0 L2.4,10 M0.3,10 L4.5,10" stroke-width="0.945"/>
<path transform="translate(300.82,491.25) scale(1.020,0.990)" d="M0,3.2 C0,1.3 1.4,0 3.2,0 C5,0 6.4,1.3 6.4,3.2 L6.4,6.8 C6.4,8.7 5,10 3.2,10 C1.4,10 0,8.7 0,6.8 Z" stroke-width="0.945"/>
<path transform="translate(308.87,491.25) scale(1.020,0.990)" d="M0,0 L6.4,0 L2.2,10" stroke-width="0.945"/>
<path transform="translate(86.25,527.30) scale(1.020,0.990)" d="M0.5,2.2 L2.4,0 L2.4,10 M0.3,10 L4.5,10" stroke-width="0.945"/>
<path transform="translate(92.27,527.30) scale(1.020,0.990)" d="M0.1,3 C0.1,1.2 1.5,0 3.2,0 C5,0 6.3,1.2 6.3,2.9 C6.3,4.5 5.1,5.5 3.6,6.5 L0.1,10 L6.5,10" stroke-width="0.945"/>
<path transform="translate(100.32,527.30) scale(1.020,0.990)" d="M0.1,3 C0.1,1.2 1.5,0 3.2,0 C5,0 6.3,1.2 6.3,2.9 C6.3,4.5 5.1,5.5 3.6,6.5 L0.1,10 L6.5,10" stroke-width="0.945"/>
<path transform="translate(294.80,525.50) scale(1.020,0.990)" d="M0.5,2.2 L2.4,0 L2.4,10 M0.3,10 L4.5,10" stroke-width="0.945"/>
<path transform="translate(300.82,525.50) scale(1.020,0.990)" d="M0,3.2 C0,1.3 1.4,0 3.2,0 C5,0 6.4,1.3 6.4,3.2 L6.4,6.8 C6.4,8.7 5,10 3.2,10 C1.4,10 0,8.7 0,6.8 Z" stroke-width="0.945"/>
<path transform="translate(308.87,525.50) scale(1.020,0.990)" d="M5.7,0.8 C5.1,0.3 4.2,0 3.2,0 C1.3,0 0,1.8 0,4.8 L0,6.8 C0,8.7 1.4,10 3.2,10 C5,10 6.4,8.7 6.4,6.8 C6.4,5 5,3.7 3.2,3.7 C1.4,3.7 0,5 0,6.8" stroke-width="0.945"/>
<path transform="translate(87.17,610.55) scale(1.020,0.990)" d="M0.5,2.2 L2.4,0 L2.4,10 M0.3,10 L4.5,10" stroke-width="0.945"/>
<path transform="translate(93.18,610.55) scale(1.020,0.990)" d="M0.5,2.2 L2.4,0 L2.4,10 M0.3,10 L4.5,10" stroke-width="0.945"/>
<path transform="translate(99.20,610.55) scale(1.020,0.990)" d="M5,10 L5,0 L0,7.1 L6.6,7.1" stroke-width="0.945"/>
<path transform="translate(295.82,593.45) scale(1.020,0.990)" d="M0.5,2.2 L2.4,0 L2.4,10 M0.3,10 L4.5,10" stroke-width="0.945"/>
<path transform="translate(301.84,593.45) scale(1.020,0.990)" d="M0,3.2 C0,1.3 1.4,0 3.2,0 C5,0 6.4,1.3 6.4,3.2 L6.4,6.8 C6.4,8.7 5,10 3.2,10 C1.4,10 0,8.7 0,6.8 Z" stroke-width="0.945"/>
<path transform="translate(309.89,593.45) scale(1.020,0.990)" d="M0.5,2.2 L2.4,0 L2.4,10 M0.3,10 L4.5,10" stroke-width="0.945"/>
<path transform="translate(294.20,645.45) scale(1.020,0.990)" d="M0.5,2.2 L2.4,0 L2.4,10 M0.3,10 L4.5,10" stroke-width="0.945"/>
<path transform="translate(300.22,645.45) scale(1.020,0.990)" d="M0,3.2 C0,1.3 1.4,0 3.2,0 C5,0 6.4,1.3 6.4,3.2 L6.4,6.8 C6.4,8.7 5,10 3.2,10 C1.4,10 0,8.7 0,6.8 Z" stroke-width="0.945"/>
<path transform="translate(308.27,645.45) scale(1.020,0.990)" d="M6.1,0 L0.8,0 L0.4,4.3 C1.1,3.8 2.1,3.6 3.2,3.6 C5.1,3.6 6.5,4.9 6.5,6.8 C6.5,8.7 5.1,10 3.2,10 C1.8,10 0.7,9.5 0,8.7" stroke-width="0.945"/>
<path transform="translate(87.22,660.25) scale(1.020,0.990)" d="M0.5,2.2 L2.4,0 L2.4,10 M0.3,10 L4.5,10" stroke-width="0.945"/>
<path transform="translate(93.24,660.25) scale(1.020,0.990)" d="M0,3.2 C0,1.3 1.4,0 3.2,0 C5,0 6.4,1.3 6.4,3.2 L6.4,6.8 C6.4,8.7 5,10 3.2,10 C1.4,10 0,8.7 0,6.8 Z" stroke-width="0.945"/>
<path transform="translate(101.29,660.25) scale(1.020,0.990)" d="M0.5,2.2 L2.4,0 L2.4,10 M0.3,10 L4.5,10" stroke-width="0.945"/>
<path transform="translate(87.22,692.85) scale(1.020,0.990)" d="M0.5,2.2 L2.4,0 L2.4,10 M0.3,10 L4.5,10" stroke-width="0.945"/>
<path transform="translate(93.24,692.85) scale(1.020,0.990)" d="M0.5,2.2 L2.4,0 L2.4,10 M0.3,10 L4.5,10" stroke-width="0.945"/>
<path transform="translate(99.25,692.85) scale(1.020,0.990)" d="M6.1,0 L0.8,0 L0.4,4.3 C1.1,3.8 2.1,3.6 3.2,3.6 C5.1,3.6 6.5,4.9 6.5,6.8 C6.5,8.7 5.1,10 3.2,10 C1.8,10 0.7,9.5 0,8.7" stroke-width="0.945"/>
<path transform="translate(294.00,686.95) scale(1.020,0.990)" d="M0.5,2.2 L2.4,0 L2.4,10 M0.3,10 L4.5,10" stroke-width="0.945"/>
<path transform="translate(300.01,686.95) scale(1.020,0.990)" d="M0,3.2 C0,1.3 1.4,0 3.2,0 C5,0 6.4,1.3 6.4,3.2 L6.4,6.8 C6.4,8.7 5,10 3.2,10 C1.4,10 0,8.7 0,6.8 Z" stroke-width="0.945"/>
<path transform="translate(308.07,686.95) scale(1.020,0.990)" d="M5,10 L5,0 L0,7.1 L6.6,7.1" stroke-width="0.945"/>
<path transform="translate(87.22,734.05) scale(1.020,0.990)" d="M0.5,2.2 L2.4,0 L2.4,10 M0.3,10 L4.5,10" stroke-width="0.945"/>
<path transform="translate(93.24,734.05) scale(1.020,0.990)" d="M0,3.2 C0,1.3 1.4,0 3.2,0 C5,0 6.4,1.3 6.4,3.2 L6.4,6.8 C6.4,8.7 5,10 3.2,10 C1.4,10 0,8.7 0,6.8 Z" stroke-width="0.945"/>
<path transform="translate(101.29,734.05) scale(1.020,0.990)" d="M0.5,2.2 L2.4,0 L2.4,10 M0.3,10 L4.5,10" stroke-width="0.945"/>
<path transform="translate(294.10,716.05) scale(1.020,0.990)" d="M0.5,2.2 L2.4,0 L2.4,10 M0.3,10 L4.5,10" stroke-width="0.945"/>
<path transform="translate(300.12,716.05) scale(1.020,0.990)" d="M0,3.2 C0,1.3 1.4,0 3.2,0 C5,0 6.4,1.3 6.4,3.2 L6.4,6.8 C6.4,8.7 5,10 3.2,10 C1.4,10 0,8.7 0,6.8 Z" stroke-width="0.945"/>
<path transform="translate(308.17,716.05) scale(1.020,0.990)" d="M0.2,1.1 C0.9,0.4 2,0 3.1,0 C4.9,0 6.2,1.1 6.2,2.5 C6.2,3.9 4.9,4.8 3.1,4.8 M3.1,4.8 C5.1,4.8 6.5,5.9 6.5,7.4 C6.5,8.9 5,10 3.1,10 C1.8,10 0.7,9.6 0,8.8" stroke-width="0.945"/>
<path transform="translate(447.22,645.55) scale(1.020,0.990)" d="M0.5,2.2 L2.4,0 L2.4,10 M0.3,10 L4.5,10" stroke-width="0.945"/>
<path transform="translate(453.24,645.55) scale(1.020,0.990)" d="M0.5,2.2 L2.4,0 L2.4,10 M0.3,10 L4.5,10" stroke-width="0.945"/>
<path transform="translate(459.25,645.55) scale(1.020,0.990)" d="M0,0 L6.4,0 L2.2,10" stroke-width="0.945"/>
<path transform="translate(447.22,682.75) scale(1.020,0.990)" d="M0.5,2.2 L2.4,0 L2.4,10 M0.3,10 L4.5,10" stroke-width="0.945"/>
<path transform="translate(453.24,682.75) scale(1.020,0.990)" d="M0.1,3 C0.1,1.2 1.5,0 3.2,0 C5,0 6.3,1.2 6.3,2.9 C6.3,4.5 5.1,5.5 3.6,6.5 L0.1,10 L6.5,10" stroke-width="0.945"/>
<path transform="translate(461.29,682.75) scale(1.020,0.990)" d="M0.5,2.2 L2.4,0 L2.4,10 M0.3,10 L4.5,10" stroke-width="0.945"/>
<path transform="translate(448.60,725.35) scale(1.020,0.990)" d="M0.5,2.2 L2.4,0 L2.4,10 M0.3,10 L4.5,10" stroke-width="0.945"/>
<path transform="translate(454.62,725.35) scale(1.020,0.990)" d="M0,3.2 C0,1.3 1.4,0 3.2,0 C5,0 6.4,1.3 6.4,3.2 L6.4,6.8 C6.4,8.7 5,10 3.2,10 C1.4,10 0,8.7 0,6.8 Z" stroke-width="0.945"/>
<path transform="translate(462.67,725.35) scale(1.020,0.990)" d="M0,0 L6.4,0 L2.2,10" stroke-width="0.945"/>
<path transform="translate(294.10,745.55) scale(1.020,0.990)" d="M0.5,2.2 L2.4,0 L2.4,10 M0.3,10 L4.5,10" stroke-width="0.945"/>
<path transform="translate(300.12,745.55) scale(1.020,0.990)" d="M0.1,3 C0.1,1.2 1.5,0 3.2,0 C5,0 6.3,1.2 6.3,2.9 C6.3,4.5 5.1,5.5 3.6,6.5 L0.1,10 L6.5,10" stroke-width="0.945"/>
<path transform="translate(308.17,745.55) scale(1.020,0.990)" d="M0.2,1.1 C0.9,0.4 2,0 3.1,0 C4.9,0 6.2,1.1 6.2,2.5 C6.2,3.9 4.9,4.8 3.1,4.8 M3.1,4.8 C5.1,4.8 6.5,5.9 6.5,7.4 C6.5,8.9 5,10 3.1,10 C1.8,10 0.7,9.6 0,8.8" stroke-width="0.945"/>
<path transform="translate(86.20,781.05) scale(1.020,0.990)" d="M0.5,2.2 L2.4,0 L2.4,10 M0.3,10 L4.5,10" stroke-width="0.945"/>
<path transform="translate(92.22,781.05) scale(1.020,0.990)" d="M0,3.2 C0,1.3 1.4,0 3.2,0 C5,0 6.4,1.3 6.4,3.2 L6.4,6.8 C6.4,8.7 5,10 3.2,10 C1.4,10 0,8.7 0,6.8 Z" stroke-width="0.945"/>
<path transform="translate(100.27,781.05) scale(1.020,0.990)" d="M6.1,0 L0.8,0 L0.4,4.3 C1.1,3.8 2.1,3.6 3.2,3.6 C5.1,3.6 6.5,4.9 6.5,6.8 C6.5,8.7 5.1,10 3.2,10 C1.8,10 0.7,9.5 0,8.7" stroke-width="0.945"/>
<path transform="translate(446.20,782.45) scale(1.020,0.990)" d="M0.5,2.2 L2.4,0 L2.4,10 M0.3,10 L4.5,10" stroke-width="0.945"/>
<path transform="translate(452.22,782.45) scale(1.020,0.990)" d="M0.1,3 C0.1,1.2 1.5,0 3.2,0 C5,0 6.3,1.2 6.3,2.9 C6.3,4.5 5.1,5.5 3.6,6.5 L0.1,10 L6.5,10" stroke-width="0.945"/>
<path transform="translate(460.27,782.45) scale(1.020,0.990)" d="M0,3.2 C0,1.3 1.4,0 3.2,0 C5,0 6.4,1.3 6.4,3.2 L6.4,6.8 C6.4,8.7 5,10 3.2,10 C1.4,10 0,8.7 0,6.8 Z" stroke-width="0.945"/>
<path transform="translate(161.52,825.75) scale(1.020,0.990)" d="M0.5,2.2 L2.4,0 L2.4,10 M0.3,10 L4.5,10" stroke-width="0.945"/>
<path transform="translate(167.54,825.75) scale(1.020,0.990)" d="M0.5,2.2 L2.4,0 L2.4,10 M0.3,10 L4.5,10" stroke-width="0.945"/>
<path transform="translate(173.55,825.75) scale(1.020,0.990)" d="M5.7,0.8 C5.1,0.3 4.2,0 3.2,0 C1.3,0 0,1.8 0,4.8 L0,6.8 C0,8.7 1.4,10 3.2,10 C5,10 6.4,8.7 6.4,6.8 C6.4,5 5,3.7 3.2,3.7 C1.4,3.7 0,5 0,6.8" stroke-width="0.945"/>
<path transform="translate(214.70,823.95) scale(1.020,0.990)" d="M0.5,2.2 L2.4,0 L2.4,10 M0.3,10 L4.5,10" stroke-width="0.945"/>
<path transform="translate(220.72,823.95) scale(1.020,0.990)" d="M0,3.2 C0,1.3 1.4,0 3.2,0 C5,0 6.4,1.3 6.4,3.2 L6.4,6.8 C6.4,8.7 5,10 3.2,10 C1.4,10 0,8.7 0,6.8 Z" stroke-width="0.945"/>
<path transform="translate(228.77,823.95) scale(1.020,0.990)" d="M0.1,3 C0.1,1.2 1.5,0 3.2,0 C5,0 6.3,1.2 6.3,2.9 C6.3,4.5 5.1,5.5 3.6,6.5 L0.1,10 L6.5,10" stroke-width="0.945"/>
<path transform="translate(323.02,822.25) scale(1.020,0.990)" d="M0.5,2.2 L2.4,0 L2.4,10 M0.3,10 L4.5,10" stroke-width="0.945"/>
<path transform="translate(329.04,822.25) scale(1.020,0.990)" d="M0.5,2.2 L2.4,0 L2.4,10 M0.3,10 L4.5,10" stroke-width="0.945"/>
<path transform="translate(335.05,822.25) scale(1.020,0.990)" d="M0.2,1.1 C0.9,0.4 2,0 3.1,0 C4.9,0 6.2,1.1 6.2,2.5 C6.2,3.9 4.9,4.8 3.1,4.8 M3.1,4.8 C5.1,4.8 6.5,5.9 6.5,7.4 C6.5,8.9 5,10 3.1,10 C1.8,10 0.7,9.6 0,8.8" stroke-width="0.945"/>
<path transform="translate(365.92,822.05) scale(1.020,0.990)" d="M0.5,2.2 L2.4,0 L2.4,10 M0.3,10 L4.5,10" stroke-width="0.945"/>
<path transform="translate(371.94,822.05) scale(1.020,0.990)" d="M0.5,2.2 L2.4,0 L2.4,10 M0.3,10 L4.5,10" stroke-width="0.945"/>
<path transform="translate(377.95,822.05) scale(1.020,0.990)" d="M3.2,4.7 C1.4,4.7 0.3,3.7 0.3,2.35 C0.3,1 1.4,0 3.2,0 C5,0 6.1,1 6.1,2.35 C6.1,3.7 5,4.7 3.2,4.7 C1.3,4.7 0,5.8 0,7.35 C0,8.9 1.4,10 3.2,10 C5,10 6.4,8.9 6.4,7.35 C6.4,5.8 5.1,4.7 3.2,4.7 Z" stroke-width="0.945"/>
<path transform="translate(410.62,822.05) scale(1.020,0.990)" d="M0.5,2.2 L2.4,0 L2.4,10 M0.3,10 L4.5,10" stroke-width="0.945"/>
<path transform="translate(416.64,822.05) scale(1.020,0.990)" d="M0.5,2.2 L2.4,0 L2.4,10 M0.3,10 L4.5,10" stroke-width="0.945"/>
<path transform="translate(422.65,822.05) scale(1.020,0.990)" d="M0.7,9.2 C1.3,9.7 2.2,10 3.2,10 C5.1,10 6.4,8.2 6.4,5.2 L6.4,3.2 C6.4,1.3 5,0 3.2,0 C1.4,0 0,1.3 0,3.2 C0,5 1.4,6.3 3.2,6.3 C5,6.3 6.4,5 6.4,3.2" stroke-width="0.945"/>
<path transform="translate(890.26,53.00) scale(1.170,1.060)" d="M0.1,3 C0.1,1.2 1.5,0 3.2,0 C5,0 6.3,1.2 6.3,2.9 C6.3,4.5 5.1,5.5 3.6,6.5 L0.1,10 L6.5,10" stroke-width="0.898"/>
<path transform="translate(899.51,53.00) scale(1.170,1.060)" d="M0,3.2 C0,1.3 1.4,0 3.2,0 C5,0 6.4,1.3 6.4,3.2 L6.4,6.8 C6.4,8.7 5,10 3.2,10 C1.4,10 0,8.7 0,6.8 Z" stroke-width="0.898"/>
<path transform="translate(908.75,53.00) scale(1.170,1.060)" d="M0.2,1.1 C0.9,0.4 2,0 3.1,0 C4.9,0 6.2,1.1 6.2,2.5 C6.2,3.9 4.9,4.8 3.1,4.8 M3.1,4.8 C5.1,4.8 6.5,5.9 6.5,7.4 C6.5,8.9 5,10 3.1,10 C1.8,10 0.7,9.6 0,8.8" stroke-width="0.898"/>
<path transform="translate(819.51,77.50) scale(1.170,1.060)" d="M0.1,3 C0.1,1.2 1.5,0 3.2,0 C5,0 6.3,1.2 6.3,2.9 C6.3,4.5 5.1,5.5 3.6,6.5 L0.1,10 L6.5,10" stroke-width="0.898"/>
<path transform="translate(828.76,77.50) scale(1.170,1.060)" d="M0,3.2 C0,1.3 1.4,0 3.2,0 C5,0 6.4,1.3 6.4,3.2 L6.4,6.8 C6.4,8.7 5,10 3.2,10 C1.4,10 0,8.7 0,6.8 Z" stroke-width="0.898"/>
<path transform="translate(838.00,77.50) scale(1.170,1.060)" d="M0.1,3 C0.1,1.2 1.5,0 3.2,0 C5,0 6.3,1.2 6.3,2.9 C6.3,4.5 5.1,5.5 3.6,6.5 L0.1,10 L6.5,10" stroke-width="0.898"/>
<path transform="translate(968.65,79.50) scale(1.170,1.060)" d="M0.1,3 C0.1,1.2 1.5,0 3.2,0 C5,0 6.3,1.2 6.3,2.9 C6.3,4.5 5.1,5.5 3.6,6.5 L0.1,10 L6.5,10" stroke-width="0.898"/>
<path transform="translate(977.89,79.50) scale(1.170,1.060)" d="M0,3.2 C0,1.3 1.4,0 3.2,0 C5,0 6.4,1.3 6.4,3.2 L6.4,6.8 C6.4,8.7 5,10 3.2,10 C1.4,10 0,8.7 0,6.8 Z" stroke-width="0.898"/>
<path transform="translate(987.13,79.50) scale(1.170,1.060)" d="M5,10 L5,0 L0,7.1 L6.6,7.1" stroke-width="0.898"/>
<path transform="translate(794.93,105.50) scale(1.170,1.060)" d="M0.1,3 C0.1,1.2 1.5,0 3.2,0 C5,0 6.3,1.2 6.3,2.9 C6.3,4.5 5.1,5.5 3.6,6.5 L0.1,10 L6.5,10" stroke-width="0.898"/>
<path transform="translate(804.18,105.50) scale(1.170,1.060)" d="M0.2,1.1 C0.9,0.4 2,0 3.1,0 C4.9,0 6.2,1.1 6.2,2.5 C6.2,3.9 4.9,4.8 3.1,4.8 M3.1,4.8 C5.1,4.8 6.5,5.9 6.5,7.4 C6.5,8.9 5,10 3.1,10 C1.8,10 0.7,9.6 0,8.8" stroke-width="0.898"/>
<path transform="translate(813.42,105.50) scale(1.170,1.060)" d="M0.5,2.2 L2.4,0 L2.4,10 M0.3,10 L4.5,10" stroke-width="0.898"/>
<path transform="translate(1004.01,130.00) scale(1.170,1.060)" d="M0.1,3 C0.1,1.2 1.5,0 3.2,0 C5,0 6.3,1.2 6.3,2.9 C6.3,4.5 5.1,5.5 3.6,6.5 L0.1,10 L6.5,10" stroke-width="0.898"/>
<path transform="translate(1013.26,130.00) scale(1.170,1.060)" d="M0,3.2 C0,1.3 1.4,0 3.2,0 C5,0 6.4,1.3 6.4,3.2 L6.4,6.8 C6.4,8.7 5,10 3.2,10 C1.4,10 0,8.7 0,6.8 Z" stroke-width="0.898"/>
<path transform="translate(1022.50,130.00) scale(1.170,1.060)" d="M6.1,0 L0.8,0 L0.4,4.3 C1.1,3.8 2.1,3.6 3.2,3.6 C5.1,3.6 6.5,4.9 6.5,6.8 C6.5,8.7 5.1,10 3.2,10 C1.8,10 0.7,9.5 0,8.7" stroke-width="0.898"/>
<path transform="translate(781.43,139.50) scale(1.170,1.060)" d="M0.1,3 C0.1,1.2 1.5,0 3.2,0 C5,0 6.3,1.2 6.3,2.9 C6.3,4.5 5.1,5.5 3.6,6.5 L0.1,10 L6.5,10" stroke-width="0.898"/>
<path transform="translate(790.68,139.50) scale(1.170,1.060)" d="M0,3.2 C0,1.3 1.4,0 3.2,0 C5,0 6.4,1.3 6.4,3.2 L6.4,6.8 C6.4,8.7 5,10 3.2,10 C1.4,10 0,8.7 0,6.8 Z" stroke-width="0.898"/>
<path transform="translate(799.92,139.50) scale(1.170,1.060)" d="M0.5,2.2 L2.4,0 L2.4,10 M0.3,10 L4.5,10" stroke-width="0.898"/>
<path transform="translate(777.68,182.00) scale(1.170,1.060)" d="M0.1,3 C0.1,1.2 1.5,0 3.2,0 C5,0 6.3,1.2 6.3,2.9 C6.3,4.5 5.1,5.5 3.6,6.5 L0.1,10 L6.5,10" stroke-width="0.898"/>
<path transform="translate(786.93,182.00) scale(1.170,1.060)" d="M0.1,3 C0.1,1.2 1.5,0 3.2,0 C5,0 6.3,1.2 6.3,2.9 C6.3,4.5 5.1,5.5 3.6,6.5 L0.1,10 L6.5,10" stroke-width="0.898"/>
<path transform="translate(796.17,182.00) scale(1.170,1.060)" d="M0.5,2.2 L2.4,0 L2.4,10 M0.3,10 L4.5,10" stroke-width="0.898"/>
<path transform="translate(1002.51,211.00) scale(1.170,1.060)" d="M0.1,3 C0.1,1.2 1.5,0 3.2,0 C5,0 6.3,1.2 6.3,2.9 C6.3,4.5 5.1,5.5 3.6,6.5 L0.1,10 L6.5,10" stroke-width="0.898"/>
<path transform="translate(1011.76,211.00) scale(1.170,1.060)" d="M0,3.2 C0,1.3 1.4,0 3.2,0 C5,0 6.4,1.3 6.4,3.2 L6.4,6.8 C6.4,8.7 5,10 3.2,10 C1.4,10 0,8.7 0,6.8 Z" stroke-width="0.898"/>
<path transform="translate(1021.00,211.00) scale(1.170,1.060)" d="M5.7,0.8 C5.1,0.3 4.2,0 3.2,0 C1.3,0 0,1.8 0,4.8 L0,6.8 C0,8.7 1.4,10 3.2,10 C5,10 6.4,8.7 6.4,6.8 C6.4,5 5,3.7 3.2,3.7 C1.4,3.7 0,5 0,6.8" stroke-width="0.898"/>
<path transform="translate(788.26,220.00) scale(1.170,1.060)" d="M0.1,3 C0.1,1.2 1.5,0 3.2,0 C5,0 6.3,1.2 6.3,2.9 C6.3,4.5 5.1,5.5 3.6,6.5 L0.1,10 L6.5,10" stroke-width="0.898"/>
<path transform="translate(797.51,220.00) scale(1.170,1.060)" d="M0,3.2 C0,1.3 1.4,0 3.2,0 C5,0 6.4,1.3 6.4,3.2 L6.4,6.8 C6.4,8.7 5,10 3.2,10 C1.4,10 0,8.7 0,6.8 Z" stroke-width="0.898"/>
<path transform="translate(806.75,220.00) scale(1.170,1.060)" d="M0.7,9.2 C1.3,9.7 2.2,10 3.2,10 C5.1,10 6.4,8.2 6.4,5.2 L6.4,3.2 C6.4,1.3 5,0 3.2,0 C1.4,0 0,1.3 0,3.2 C0,5 1.4,6.3 3.2,6.3 C5,6.3 6.4,5 6.4,3.2" stroke-width="0.898"/>
<path transform="translate(814.51,254.50) scale(1.170,1.060)" d="M0.1,3 C0.1,1.2 1.5,0 3.2,0 C5,0 6.3,1.2 6.3,2.9 C6.3,4.5 5.1,5.5 3.6,6.5 L0.1,10 L6.5,10" stroke-width="0.898"/>
<path transform="translate(823.76,254.50) scale(1.170,1.060)" d="M0,3.2 C0,1.3 1.4,0 3.2,0 C5,0 6.4,1.3 6.4,3.2 L6.4,6.8 C6.4,8.7 5,10 3.2,10 C1.4,10 0,8.7 0,6.8 Z" stroke-width="0.898"/>
<path transform="translate(833.00,254.50) scale(1.170,1.060)" d="M5.7,0.8 C5.1,0.3 4.2,0 3.2,0 C1.3,0 0,1.8 0,4.8 L0,6.8 C0,8.7 1.4,10 3.2,10 C5,10 6.4,8.7 6.4,6.8 C6.4,5 5,3.7 3.2,3.7 C1.4,3.7 0,5 0,6.8" stroke-width="0.898"/>
<path transform="translate(869.51,283.00) scale(1.170,1.060)" d="M0.1,3 C0.1,1.2 1.5,0 3.2,0 C5,0 6.3,1.2 6.3,2.9 C6.3,4.5 5.1,5.5 3.6,6.5 L0.1,10 L6.5,10" stroke-width="0.898"/>
<path transform="translate(878.76,283.00) scale(1.170,1.060)" d="M0,3.2 C0,1.3 1.4,0 3.2,0 C5,0 6.4,1.3 6.4,3.2 L6.4,6.8 C6.4,8.7 5,10 3.2,10 C1.4,10 0,8.7 0,6.8 Z" stroke-width="0.898"/>
<path transform="translate(888.00,283.00) scale(1.170,1.060)" d="M3.2,4.7 C1.4,4.7 0.3,3.7 0.3,2.35 C0.3,1 1.4,0 3.2,0 C5,0 6.1,1 6.1,2.35 C6.1,3.7 5,4.7 3.2,4.7 C1.3,4.7 0,5.8 0,7.35 C0,8.9 1.4,10 3.2,10 C5,10 6.4,8.9 6.4,7.35 C6.4,5.8 5.1,4.7 3.2,4.7 Z" stroke-width="0.898"/>
<path transform="translate(916.01,283.00) scale(1.170,1.060)" d="M0.1,3 C0.1,1.2 1.5,0 3.2,0 C5,0 6.3,1.2 6.3,2.9 C6.3,4.5 5.1,5.5 3.6,6.5 L0.1,10 L6.5,10" stroke-width="0.898"/>
<path transform="translate(925.26,283.00) scale(1.170,1.060)" d="M0,3.2 C0,1.3 1.4,0 3.2,0 C5,0 6.4,1.3 6.4,3.2 L6.4,6.8 C6.4,8.7 5,10 3.2,10 C1.4,10 0,8.7 0,6.8 Z" stroke-width="0.898"/>
<path transform="translate(934.50,283.00) scale(1.170,1.060)" d="M0,0 L6.4,0 L2.2,10" stroke-width="0.898"/>
<path transform="translate(961.10,265.50) scale(1.170,1.060)" d="M6.1,0 L0.8,0 L0.4,4.3 C1.1,3.8 2.1,3.6 3.2,3.6 C5.1,3.6 6.5,4.9 6.5,6.8 C6.5,8.7 5.1,10 3.2,10 C1.8,10 0.7,9.5 0,8.7" stroke-width="0.898"/>
<path transform="translate(970.35,265.50) scale(1.170,1.060)" d="M0.5,2.2 L2.4,0 L2.4,10 M0.3,10 L4.5,10" stroke-width="0.898"/>
<path transform="translate(977.25,265.50) scale(1.170,1.060)" d="M0.5,2.2 L2.4,0 L2.4,10 M0.3,10 L4.5,10" stroke-width="0.898"/>
</g>
<polygon points="747.7,690.3 865.6,690.3 865.6,847" fill="#d63a3a"/>
<text transform="translate(812.18,771.27) scale(0.89167,0.93078)" font-size="100" font-family="'Liberation Sans', sans-serif" font-weight="bold" fill="#fff" stroke="#fff" stroke-width="2.4673" stroke-linejoin="round">s</text>
<text transform="translate(868.56,773.60) scale(0.96242,0.95862)" font-size="100" font-family="'Liberation Sans', sans-serif" font-weight="bold" fill="#000" stroke="#000" stroke-width="2.2859" stroke-linejoin="round">h</text>
<text transform="translate(930.34,772.45) scale(0.84991,0.95438)" font-size="100" font-family="'Liberation Sans', sans-serif" font-weight="bold" fill="#000" stroke="#000" stroke-width="2.5885" stroke-linejoin="round">a</text>
<text transform="translate(984.28,773.40) scale(1.04870,0.97032)" font-size="100" font-family="'Liberation Sans', sans-serif" font-weight="bold" fill="#000" stroke="#000" stroke-width="2.0978" stroke-linejoin="round">r</text>
<text transform="translate(1024.72,773.13) scale(0.94632,0.96538)" font-size="100" font-family="'Liberation Sans', sans-serif" font-weight="bold" fill="#000" stroke="#000" stroke-width="2.3248" stroke-linejoin="round">g</text>
<text transform="translate(1083.91,773.40) scale(1.02837,1.04698)" font-size="100" font-family="'Liberation Sans', sans-serif" font-weight="bold" fill="#000" stroke="#000" stroke-width="2.1393" stroke-linejoin="round">.</text>
<text transform="translate(1112.34,773.44) scale(0.96429,0.96925)" font-size="100" font-family="'Liberation Sans', sans-serif" font-weight="bold" fill="#000" stroke="#000" stroke-width="2.2815" stroke-linejoin="round">p</text>
<text transform="translate(1170.59,773.40) scale(1.07299,0.94759)" font-size="100" font-family="'Liberation Sans', sans-serif" font-weight="bold" fill="#000" stroke="#000" stroke-width="2.0503" stroke-linejoin="round">l</text>
</svg>
</body></html>
